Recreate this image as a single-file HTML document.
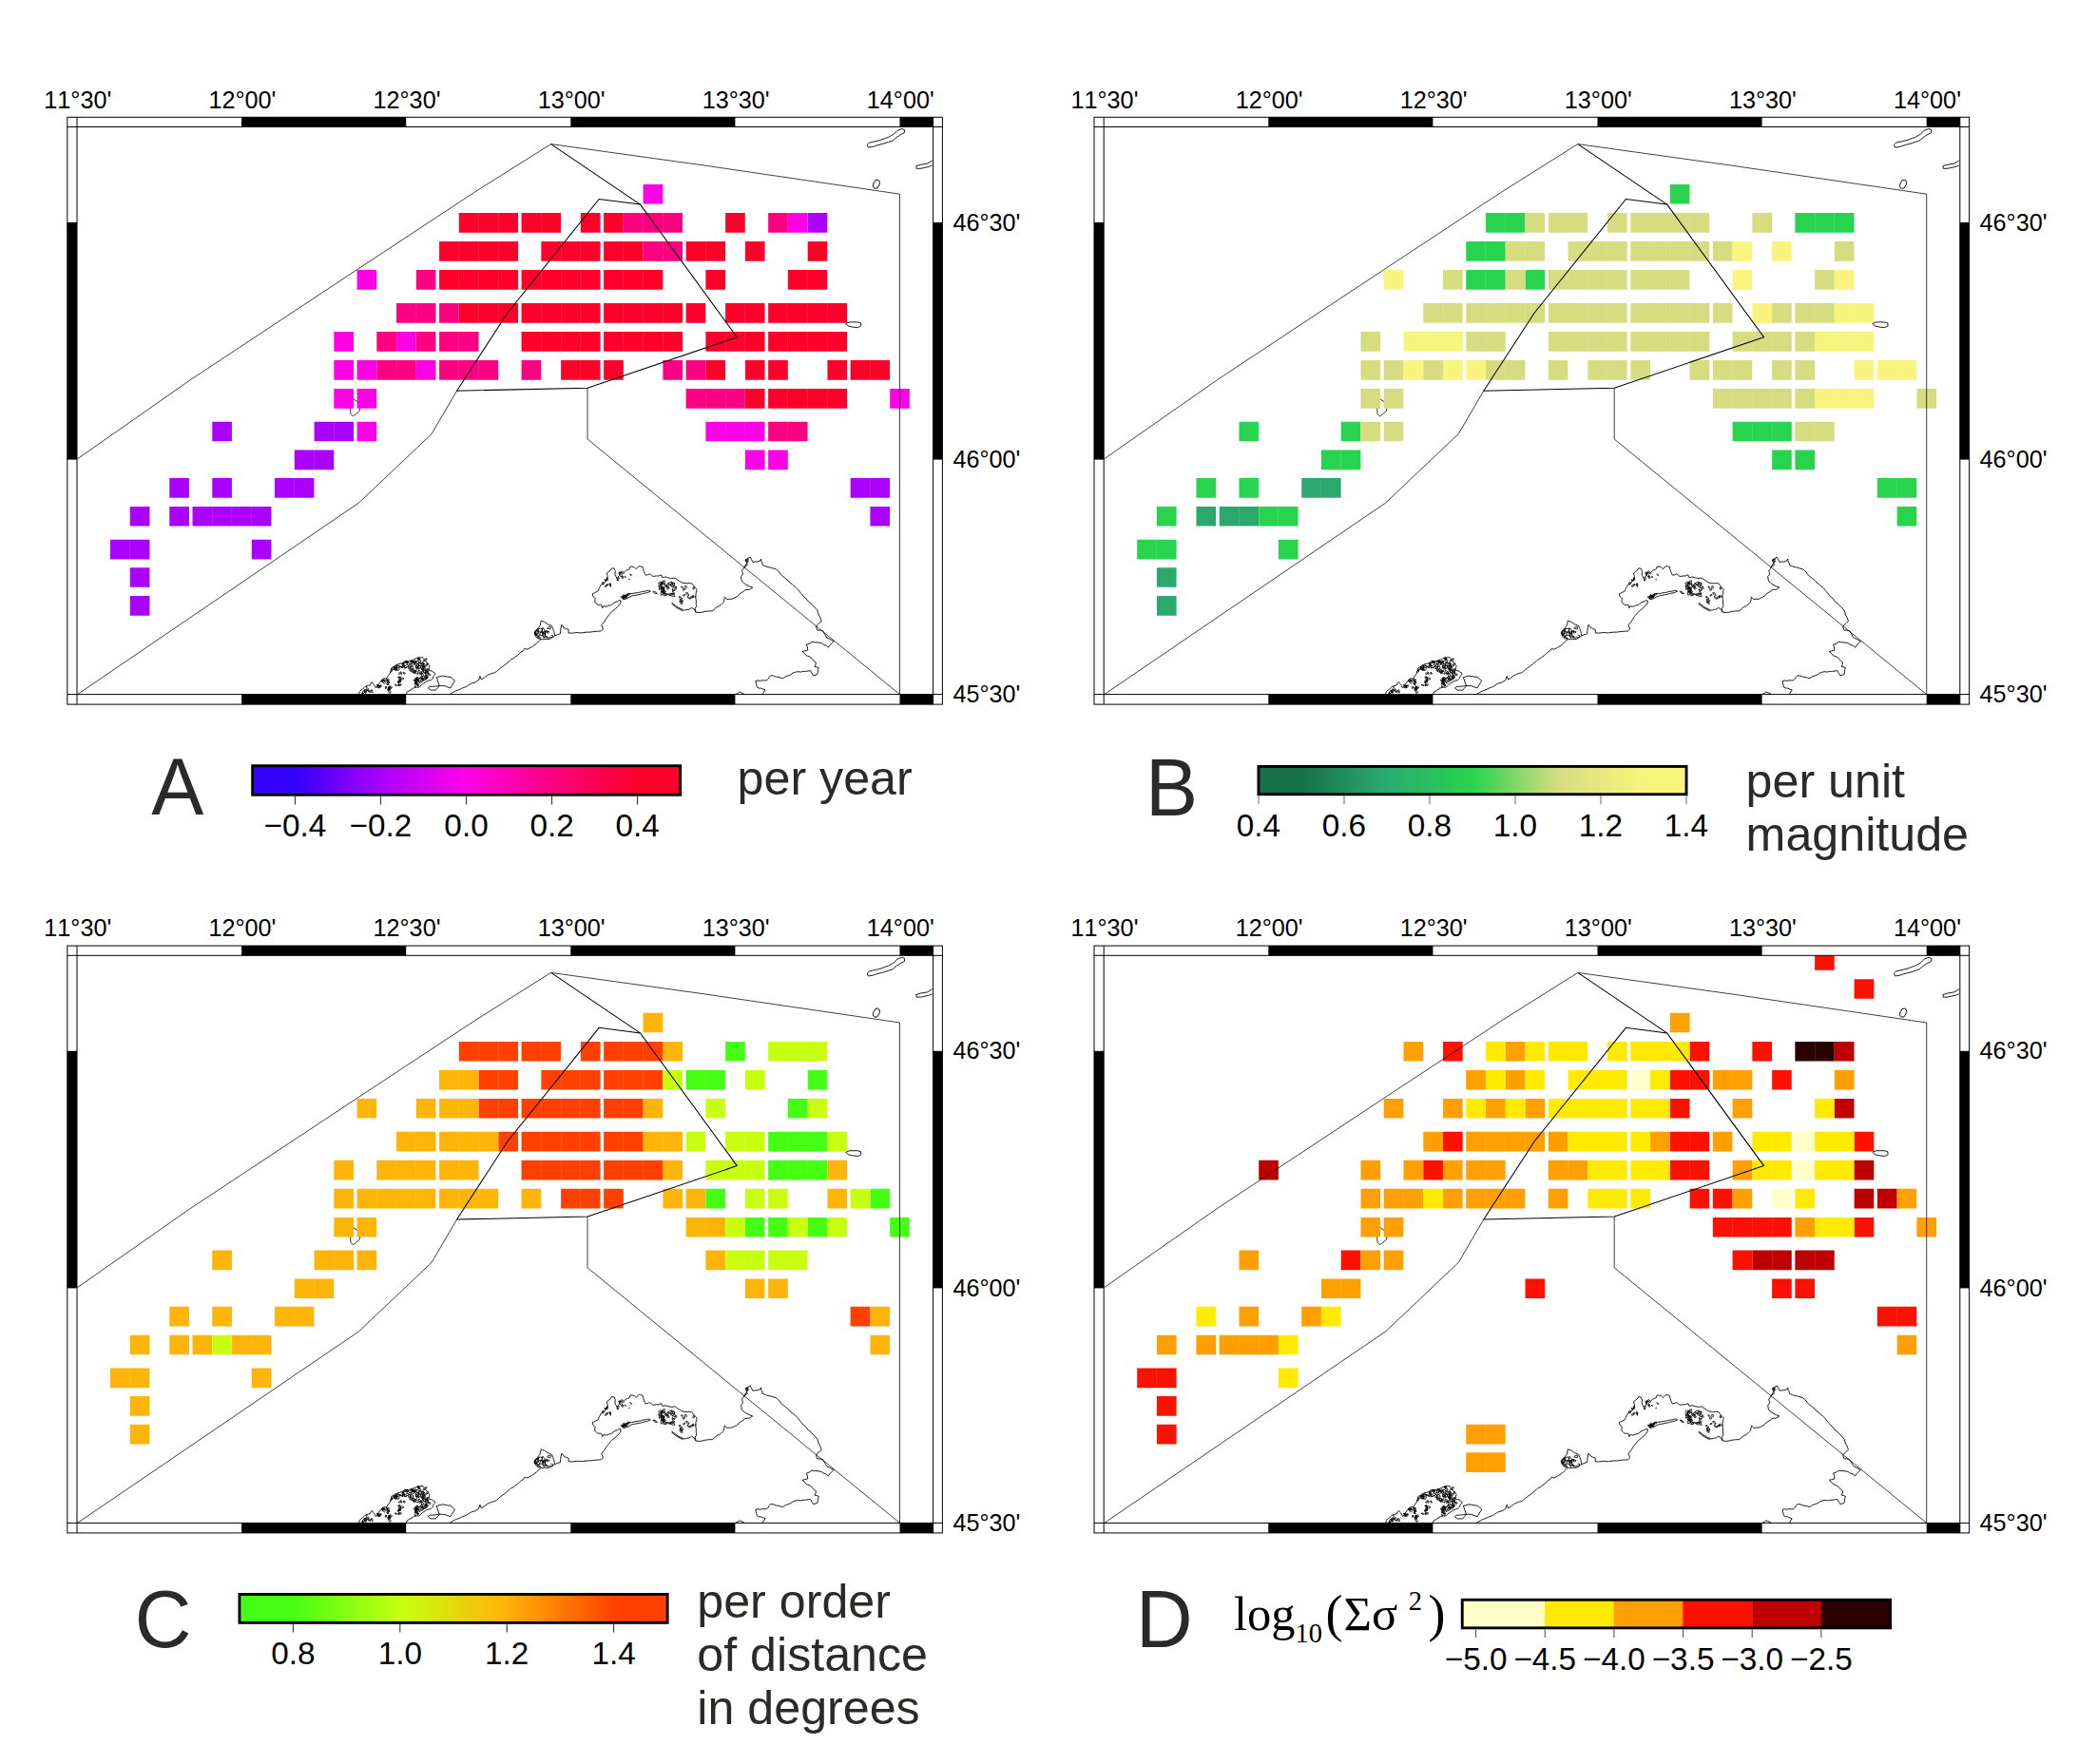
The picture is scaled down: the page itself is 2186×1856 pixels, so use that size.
<!DOCTYPE html>
<html lang="en"><head><meta charset="utf-8"><title>Figure</title>
<style>html,body{margin:0;padding:0;background:#fff}svg{display:block}text{font-family:"Liberation Sans",Arial,sans-serif}.ser{font-family:"Liberation Serif","Times New Roman",serif}</style></head><body>
<svg width="2186" height="1856" viewBox="0 0 2186 1856">
<defs>
<clipPath id="mapclip"><rect x="81" y="133.5" width="900.6" height="597.1"/></clipPath>
<linearGradient id="gA" x1="0" x2="1" y1="0" y2="0"><stop offset="0" stop-color="#3400ff"/><stop offset="0.1" stop-color="#3400ff"/><stop offset="0.3" stop-color="#aa00ff"/><stop offset="0.5" stop-color="#ff00e8"/><stop offset="0.7" stop-color="#ff0082"/><stop offset="0.9" stop-color="#ff002b"/><stop offset="1" stop-color="#ff002b"/></linearGradient>
<linearGradient id="gB" x1="0" x2="1" y1="0" y2="0"><stop offset="0" stop-color="#16704a"/><stop offset="0.1" stop-color="#16704a"/><stop offset="0.3" stop-color="#2caa70"/><stop offset="0.5" stop-color="#28d44e"/><stop offset="0.7" stop-color="#d6dc82"/><stop offset="0.9" stop-color="#f8f47c"/><stop offset="1" stop-color="#f8f47c"/></linearGradient>
<linearGradient id="gC" x1="0" x2="1" y1="0" y2="0"><stop offset="0" stop-color="#44ff14"/><stop offset="0.12" stop-color="#44ff14"/><stop offset="0.38" stop-color="#c8ff10"/><stop offset="0.62" stop-color="#ffb408"/><stop offset="0.88" stop-color="#ff4000"/><stop offset="1" stop-color="#ff4000"/></linearGradient>
<g id="base">
<path fill="none" stroke="#000" stroke-width="0.75" d="M81.5 482.8 L200 399.9 L375.4 283.85 L500 201.7 L579.6 151.6 L740 173.9 L946.5 204.2 L946.5 730.6"/>
<path fill="none" stroke="#000" stroke-width="0.75" d="M81.5 730.6 L377.6 529 L454.1 456.5 L480.6 411.2"/>
<path fill="none" stroke="#000" stroke-width="0.75" d="M618 408.3 L618 462 L946.5 730.6"/>
<path fill="none" stroke="#000" stroke-width="1.05" stroke-linejoin="miter" d="M480.6 411.2 L533.9 329.2 L630.2 209.5 L673.5 215.1 L775.3 354.8 L618.1 408.3Z"/>
<path fill="none" stroke="#000" stroke-width="1.05" stroke-linejoin="miter" d="M579.6 151.6 L673.5 215.1"/>
</g>
<g id="coast">
<path fill="none" stroke="#000" stroke-width="0.9" stroke-linejoin="round" d="M377.51 730.82 L377.91 728.74 L378.66 727.35 L380.06 725.96 L381.2 725.29 L381.97 724.47 L383.2 723.44 L384.49 722.13 L386.17 721.58 L387.83 721.33 L389.63 720.42 L390.12 718.7 L391.37 717.54 L392.46 719.33 L393.37 720.13 L394.25 721.58 L395.41 723.89 L396.75 722.28 L397.5 721.37 L397.65 720.04 L398.68 719.58 L399.42 718.19 L400.74 716.83 L401.52 715.37 L402.34 714.65 L403.44 713.97 L405.6 713.81 L406.96 713.49 L407.64 712.13 L408.64 710.41 L409.85 709.36 L410.42 707.72 L411.03 706.06 L412.16 704.25 L413.19 703.47 L414.41 701.73 L415.67 700.41 L416.2 699.63 L417.56 699.46 L418.74 698.76 L420.07 698.5 L422.24 697.97 L423.79 697.28 L425.05 697.13 L426.38 696.56 L427.75 696.17 L429.48 696.2 L430.51 695.52 L431.49 695.14 L433.48 695.03 L435.05 693.91 L436.01 693.88 L437.04 693.27 L438.58 692.51 L439.87 692.76 L441.33 691.83 L442.99 692.04 L444.49 691.26 L445.01 692.4 L446.42 694.03 L447.63 695.2 L448.03 695.94 L449.04 697.6 L450.58 698.06 L450.74 699.33 L452 700.79 L451.35 702.31 L451.32 703.63 L450.85 705.41 L452.08 705.62 L454.31 705.99 L455.91 707.21 L457.78 708.3 L457.54 709.76 L456.4 710.95 L455.87 711.66 L455.4 713.66 L454.31 714.65 L453.3 715.64 L451.43 715.93 L449.76 716.86 L448.33 716.99 L447.38 718.11 L445.93 718.7 L444.91 719.51 L443.42 720.54 L442.36 721.67 L441.61 722.73 L439.54 723.4 L438.54 722.96 L436.59 723.45 L435.25 723.89 L433.77 724.28 L432.91 725.92 L431.21 726.2 L430.02 727.14 L428.49 727.72 L427.75 729.08 L427.17 730.82M411.23 704.84 L411.48 702.99 L413.38 701.52 L415.23 701.5 L414.78 703.26 L413.17 704.65ZM446.76 703.99 L445.59 704.5 L444.32 701.85 L444.42 700.61 L446.28 701 L447.05 703.21ZM427.53 696.72 L427.74 695.68 L428.61 695.66 L428.86 696.21 L428.34 696.93ZM428.31 697.9 L428.06 697.6 L428.42 695.59 L429.05 695.44 L429.62 696 L429.49 697.51ZM437.31 716.67 L436.59 716.97 L435.48 716.28 L435.02 715.31 L436.39 715.32 L436.86 715.91ZM436 708.66 L435.12 708.57 L434.87 708.23 L434.78 707.55 L435.3 706.65 L436.41 707.31 L436.41 707.71ZM449.68 710.52 L448.23 710.52 L447.34 705.12 L448.8 705.41 L450.64 709.55ZM443.61 707.97 L442.88 707.39 L443.79 706.81 L444.48 706.31 L445.38 706.19 L445.14 706.69 L445.09 707.93 L444.13 708.89ZM445.12 695.93 L445.87 694.34 L448.8 692.55 L448.99 693.88 L447.3 695.4ZM434.91 707.81 L434.12 706.26 L434.41 705.68 L435.41 704.75 L436.12 704.53 L436.52 706.06 L435.44 707.27ZM444.86 705.4 L443.52 704.37 L442.35 702.16 L442.63 700.84 L443.29 700.31 L443.69 700 L444.79 701.76 L445.02 704.7ZM433.18 707 L432.48 706.62 L432.55 705.51 L432.66 704.61 L434.2 705.25 L433.95 706.74ZM448.83 707.68 L448.7 706.94 L448.79 706.42 L449.58 705.63 L450.14 705.93 L450.11 706.68 L449.54 707.38ZM425.4 700.56 L424.02 700.74 L423 700.57 L422.84 699.92 L424.74 699.87ZM437.44 714.27 L437.52 713.8 L437.83 712.97 L439.06 712.75 L439.95 712.97 L440.08 713.96 L439.09 714.56 L438.02 714.75ZM446.73 705.71 L445.98 705.53 L447.63 703.93 L448.3 704.21 L448.67 704.37 L449.42 704.93 L447.92 706.27 L447.49 706.04ZM439.83 709.26 L438.37 708.73 L436.96 708.03 L437.17 706 L438.84 706.7 L439.98 707.58ZM417.85 704.77 L417.12 704.63 L416.19 704.08 L416.15 703.48 L416.42 703.14 L416.95 703.21 L417.41 703.67 L417.87 703.98ZM444.59 700.12 L443.69 699.27 L443.75 697.06 L444.48 696.8 L445.22 697.51 L445.74 699.41ZM443.76 704.37 L443.76 703.25 L444.52 703.08 L445.53 702.98 L445.88 703.82 L445.91 704.38 L444.19 705.24ZM439.61 701.75 L438.79 702.79 L436.78 701.17 L437.32 700.51 L439 700.83ZM439.22 702.99 L439.3 701.17 L441.09 700.57 L442.84 699.88 L443.34 700.82 L442.6 701.53 L441.13 703.45 L440.02 703.53ZM446.76 702.29 L444.97 701.99 L444.22 700.38 L445.16 699.46 L446.66 700.84ZM448.84 700.29 L448.67 699.51 L448.97 698.54 L449.65 697.83 L450.14 698.09 L450.16 698.62 L449.26 700.37ZM446.43 715.21 L445.56 714.29 L447.73 712.82 L449.12 712.8 L450.28 712.59 L448.41 714.94 L447.02 715ZM446.98 712.97 L447.12 712.08 L447.98 711.64 L448.68 712.2 L448.56 713.16 L447.98 713.5ZM449.5 712.6 L448.85 711.9 L448.9 711.57 L449.75 710.81 L450.22 711.65 L450.08 712.06ZM440.9 704.08 L440.15 704.04 L439.6 702.91 L439.79 702.63 L440.27 702.54 L440.55 702.7 L440.77 703.51ZM446.92 698.65 L445.99 698.89 L445.34 699.19 L444.23 698.98 L444 698.45 L443.9 697.98 L445.25 697.63 L446.23 698.33ZM434.95 703.32 L433.2 703.42 L431.73 702.02 L432.41 700.83 L434.35 701.5ZM441.59 693.35 L440.01 693.99 L438.5 692.56 L439.51 691.86 L440.72 691.49ZM423.26 699.07 L424.6 696.42 L426.48 695.41 L427.56 697.04 L425.77 697.89ZM435.7 707.56 L435.7 706.7 L435.81 706.18 L436.28 705.83 L437.27 705.88 L437.25 706.63 L437.36 706.96 L436.69 707.86ZM415.33 702.06 L415.46 701.9 L417.07 701.57 L417.84 701.63 L418.37 702.23 L417.34 702.78 L417.19 703.28 L415.44 702.82ZM435.44 697.55 L436.73 696.26 L437.91 696.31 L438.09 697.52 L436.67 698.02ZM450.28 704.82 L449.25 704.92 L448.96 704.18 L449.68 703.57 L450.28 703.47 L450.62 704.17ZM440.99 708.87 L441.45 708.09 L442.62 707.92 L443.31 708.69 L441.44 709.65ZM445.76 701.23 L446.26 700.24 L447.86 699.83 L448.24 701.26 L447.29 702.14ZM417.05 705.41 L416.72 704.82 L416.92 703.51 L417.35 703.12 L417.9 703.64 L417.54 704.91ZM442.92 698.09 L441.94 698.34 L441.13 697.72 L440.31 697.25 L440.16 696.32 L441.08 696.25 L441.74 696.46 L442.62 697.04ZM443.7 715.2 L443.48 714.81 L444.94 713.74 L445.74 713.68 L445.56 714.45 L444.41 715.11ZM429.86 703.95 L429.65 702.59 L429.29 701.65 L430.68 700.5 L431.13 700.83 L431.14 701.87 L430.73 703.23ZM439.39 694.09 L439.69 693.64 L439.79 693.35 L440.96 693.09 L441.14 693.55 L440.82 694.15 L440.21 694.33 L439.76 694.32ZM437.28 703.09 L438.15 700.38 L440.17 699.88 L441 700.68 L439.06 702.31ZM447.51 708.2 L447.28 708.12 L446.79 708.09 L446.76 707.65 L446.84 707.19 L447.2 707.25 L447.67 707.26 L447.75 707.87ZM442.62 717.99 L442.14 718.65 L440.25 716.83 L440.26 715.99 L441.14 715.66 L442.93 717.51ZM439.07 715.48 L437.8 714.95 L438.4 712.76 L439.8 713.03 L440.4 714.43ZM448.2 711.8 L447.88 712.62 L446.87 712.36 L446.03 711.66 L446.47 711.01 L447.78 710.77ZM410.6 707.34 L410.67 706.34 L411.85 705.44 L412.58 705.55 L412.45 706.3 L411.73 706.95ZM449.6 709.11 L448.84 708.13 L449.1 706.68 L450.12 706.21 L450.48 706.86 L450.27 708.83ZM414.68 704.63 L415.01 702.89 L417.1 702.44 L417.68 702.8 L416.46 704.61ZM428.06 700 L427.68 699.41 L427.67 699.03 L428.1 698.52 L428.58 698.86 L428.84 699.13 L428.43 699.91ZM430.97 698.97 L430.99 697.59 L431.47 696.03 L432.61 694.76 L433.15 695.44 L433.43 696.41 L433.71 697.68 L431.65 698.76ZM429.07 697.8 L427.69 697.39 L426.78 696.57 L426.33 696.09 L426.82 695.38 L428.07 695.69 L428.89 696.39ZM431.93 706.06 L431.29 706.1 L430.95 705.54 L430.86 704.88 L431.33 704.38 L432.22 705.07 L432.25 705.95ZM444.8 713.29 L443.95 713.84 L442.53 713.71 L442.4 712.89 L442.54 712.21 L442.97 711.69 L444.45 711.74 L444.56 712.38ZM444.38 711.71 L443.36 712.2 L443.35 710.22 L444.33 708.73 L444.94 708.8 L445.28 710.07 L445.3 711.46ZM439.14 717.88 L437.27 715.98 L436.74 713.63 L437.87 713.23 L439.74 716.06ZM452.83 709.59 L452.77 710.41 L451.66 710.32 L451.05 710.35 L451.03 709.57 L450.88 709.01 L452.07 708.63 L452.44 708.96ZM434.77 696.67 L433.86 697.6 L432.43 696.94 L432.38 695.72 L432.97 694.73 L434.06 694.85 L434.89 696.31ZM443.53 708.76 L442 708.48 L440.29 706.25 L440.21 705.44 L441.38 705.49 L443.21 707.57ZM438.4 699.22 L437.68 699.82 L434.86 698.16 L433.39 696.39 L436.26 696.7 L437.96 697.66ZM441.19 719.22 L440.82 717.56 L440.31 715.94 L438.82 715.12 L437.9 716.55 L438.36 718.19 L439.73 719.19 L438.38 718.17 L438.32 716.47 L436.79 715.72 L438.09 714.63 L439.65 715.32 L441.17 714.57 L441.61 712.92 L443.3 713.16 L443.82 714.77 L445.21 715.76 L444.49 717.3 L442.83 716.92 L442.8 715.22 L443.69 713.77 L445.27 714.41 L445.28 716.11 L446.86 715.46 L447.8 714.04 L449.12 712.98 L448.17 711.57 L448.06 709.88 L447.18 708.42 L445.65 707.68 L445.38 706 L445 704.34 L443.82 703.13 L442.56 701.98 L442.2 700.32 L440.5 700.27 L440.3 698.58 L438.6 698.55 L437.38 697.36 L437.78 695.71 L436.18 695.11 L434.79 696.08 L435.61 697.57 L437.24 697.07 L437.77 695.45 L439.46 695.64 L440.64 694.42 L442.34 694.37 L442.87 695.98 L441.43 696.89 L440.54 698.34 L440.36 700.03 L440.05 701.7 L438.61 702.6 L438.89 704.28 L437.96 705.7 L436.26 705.87 L435.32 704.46 L433.76 705.14 L432.74 703.78 L431.11 704.28 L431.74 702.7 L431.57 701.01 L433.13 700.35 L434.77 699.9 L435.92 698.65 L436.25 696.98 L435.06 695.77 L433.55 696.53 L433.46 698.23 L432.48 699.62 L431.02 698.75 L429.51 699.54 L429.95 701.18 L428.37 701.8 L426.73 702.26 L425.29 703.15 L425.28 701.45 L425.05 699.77 L424.44 698.19 L422.75 698.41 L424.42 698.73 L425.04 700.31 L426.73 700.47 L427.93 701.68 L427.01 703.11 L425.64 702.11 L424.09 701.4 L422.71 702.39 L421.15 701.71 L419.49 702.05 L417.89 702.63 L417.2 701.07 L418.22 699.71 L419.71 700.52 L421.3 701.12 L422.91 701.65 L423.82 703.09 L422.62 701.88 L421 701.37 L419.98 702.72 L420.04 704.42 L418.81 705.59 L417.21 705.02 L415.51 705.15 L414.31 703.95 L414.37 702.25 L415.36 700.87 L416.89 700.12 L418.5 700.65 L420.19 700.51M422.67 709.3 L422.05 709.23 L421.34 708.63 L421.84 708.21 L422.78 707.99 L422.87 708.86ZM425.93 709.34 L424.81 708.9 L424.44 708 L424.77 707.16 L426.2 708.15ZM421.21 717.93 L420.3 716.2 L419.89 714.53 L420.27 712.41 L420.81 712.04 L421.39 714.01 L421.37 716.4ZM419.65 709.32 L419.3 708.57 L420.3 707.87 L421.55 706.84 L422.23 707.11 L421.67 708.44 L420.23 709.42ZM419.04 721.54 L418.78 721.24 L419.31 720.12 L419.8 719.62 L420.18 720.6 L419.52 721.51ZM418.78 713.07 L418.88 712.07 L420.27 711.91 L421.19 712.34 L420.59 713.35 L419.75 713.83ZM421.07 714.4 L421.53 713.68 L422.34 712.96 L424.03 713.4 L424.59 713.85 L424.61 714.5 L422.57 715.07 L422.27 714.8ZM418.65 718.74 L418.63 716.8 L419.44 715.5 L420.49 715.35 L420.07 717.39ZM417.48 721.53 L416.41 721.44 L415.09 720.56 L415.87 720.1 L416.92 720.36ZM418.98 717.79 L420.04 716.44 L421.16 715.55 L421.73 715.66 L421.91 716.34 L420.17 718.06ZM418.76 721.16 L419.25 720.06 L421.54 719.8 L422.32 720.05 L421.52 721.42 L419.57 721.37ZM418.77 718.11 L419.22 717.35 L419.9 717.19 L420.55 716.88 L420.71 717.33 L420.19 717.98 L419.31 718.16ZM405.13 718.46 L404.37 719.15 L402.78 718 L401.09 716.25 L401.41 715.57 L402.82 715.33 L403.94 716.55 L405.16 717.77ZM407.8 717.97 L407.34 716.26 L408.49 714.27 L409.2 715.16 L408.63 717.42ZM408.7 724.61 L408.64 723.49 L411.33 721.97 L412.28 722.87 L412.18 723.86 L410.09 724.63ZM405.46 724.57 L405.32 723.69 L405.86 722.98 L406.35 723.18 L406.27 724.07ZM408.09 720.44 L407.17 720.05 L406.74 719.02 L407.2 718.6 L408.36 719.04ZM406.91 723.6 L406.38 723.77 L405.83 723.38 L405.58 722.34 L406.11 722.49 L406.64 722.78 L406.82 723ZM409.14 720.8 L408.47 720.75 L407.65 720.66 L407.23 720.26 L407.41 720.15 L407.51 719.88 L407.97 719.76 L409.07 720.44ZM409.14 726.7 L408.88 726.52 L408.4 724.96 L408.76 723.87 L409.17 724.24 L410.01 724.18 L410.26 725.2 L409.69 726.4ZM410.93 729.14 L409.58 729.1 L408.44 727.16 L407.59 724.82 L409.47 725.67 L411.01 727.69ZM408.52 723.63 L408.75 722.93 L409.47 722.7 L409.75 723.17 L409.22 723.83ZM408.51 719.45 L407.61 719 L406.87 716.67 L407.51 715.56 L408.85 716.74 L409.42 718.37ZM409.4 724.2 L409.05 724.25 L409 723.11 L408.9 722.32 L409.55 722.35 L409.83 722.91 L409.82 724.35ZM409.55 719.06 L409 718.51 L408.82 717.57 L409.31 717.54 L409.71 718.14ZM405.38 716.91 L404.61 716.78 L403.77 716.24 L403.64 715.83 L403.57 715.15 L404.45 715 L405.01 715.62 L405.32 716.47ZM409.81 725.87 L409.73 725.02 L409.78 723.14 L410.39 722.88 L410.84 722.91 L410.9 724.19 L410.45 725.4ZM407.1 716.41 L406.22 715.54 L406.4 714.41 L407.08 714.26 L407.41 715.45ZM384.94 725.36 L384.78 725.05 L385.01 724.88 L385.61 724.8 L385.77 725.16 L385.76 725.37 L385.64 725.94 L385.07 725.89ZM384.84 729.47 L384.18 729.07 L383.95 728.68 L383.68 728.09 L383.35 727.35 L384.2 727.84 L384.56 727.88 L385.22 729.1ZM380.66 729.59 L381.15 728.84 L381.78 728.73 L382.36 729.61 L381.72 730.2ZM380.92 729.99 L381.83 727.28 L383.24 726.57 L384.63 726.7 L382.75 729.49ZM391.85 729.09 L390.93 728.02 L390.3 726.05 L391.27 725.74 L392.02 727.16ZM385.92 726.48 L386.28 725.25 L387.35 724.47 L388.01 725.25 L387.18 726.55ZM384.92 728.14 L383.72 728.67 L383.23 727.85 L383.12 725.99 L384.02 725.46 L385.12 726.08 L385.82 728.06ZM385.85 723.71 L385.41 723 L385.54 722.44 L386.05 722.65 L386.27 723.25ZM388.13 728.42 L387.43 727.19 L387.43 726.42 L388.15 725.73 L389.22 726.87ZM389.74 728.54 L389.23 728.58 L388.85 728.23 L388.43 727.41 L388.87 727.38 L389.24 727.27 L389.56 727.81ZM439.84 720.72 L439.27 720.86 L438.19 720.59 L437.95 719.32 L438.09 718.73 L438.92 719.22 L440.06 720.19ZM439.03 722.04 L438.96 721.92 L439.55 721.1 L440 720.63 L440.42 720.76 L440.18 721.32 L439.92 722 L439.45 722.1ZM436.81 718.08 L437.06 716.95 L438.42 716.15 L438.79 716.86 L437.59 718.31ZM438.47 720.51 L438.09 720.62 L437.43 719.59 L437.17 719.03 L437.96 719.25 L438.47 719.9ZM435.87 719.94 L436.36 719.54 L437.14 719.39 L437.91 719.57 L437.54 719.96 L436.71 720.21ZM439.04 720.9 L439.4 720.56 L440.66 720.48 L440.23 721.02 L439.18 721.31ZM437.35 723.33 L436.93 723.18 L436.05 721.95 L436.53 721.73 L436.9 721.63 L437.57 722.77ZM436.68 719.02 L436.5 717.78 L436.9 715.56 L437.61 716.16 L437.66 717.76ZM396.56 722.87 L397.22 722.01 L397.69 721.35 L398.49 722.08 L398.84 722.55 L397.19 723.47ZM401.48 716.53 L402.32 715.77 L403.09 715.23 L403.97 715.23 L404.23 715.67 L404.09 716.3 L403.81 716.94 L402 717.21ZM402.62 717.53 L401.88 717.22 L401.33 716.29 L402.17 715.54 L403.07 715.86 L402.88 717.02ZM400.57 721.67 L399.61 722.38 L398.39 722.29 L398.67 721.38 L399.88 721.24ZM399.49 723.32 L399.05 722.4 L399.28 721.52 L400.17 721.08 L400.95 720.72 L401.1 721.53 L401.23 722.33 L400.12 723.27ZM398.06 722.02 L397.41 721.77 L397.61 720.89 L398.08 720.96 L398.3 721.42ZM399.09 723.92 L398.22 723.86 L397.02 722.65 L396.73 721.64 L396.25 720.42 L398.2 721.64 L399.55 722.81ZM398.65 722.21 L398.06 721.84 L397.89 721.68 L397.79 721.2 L398.07 720.86 L398.26 721.08 L398.79 721.08 L398.81 721.6ZM450.27 723.89 L453.16 726.2 L455.69 726.1 L458.35 726.2 L460.51 723.75 L462.39 721.58 L461.05 718.29 L460.08 714.65 L458.93 712.92 L461.83 711.91 L464.7 711.18 L467.8 711.38 L470.88 712.14 L473.94 712.34 L476.4 714.44 L478.56 716.38 L476.93 718.83 L475.35 721.49 L473.94 723.89 L470.78 722.84 L467.59 721.58 L464.35 721.47 L461.24 721.58 L458.28 722.06 L455.22 722.28 L452 722.44 L450.27 723.89M471.05 731.24 L473.68 730.27 L475.67 728.99 L478.17 727.51 L480.35 726.56 L482.92 725.72 L485.49 724.45 L488.07 723.33 L490.31 722.63 L492.58 721.11 L494.32 719.93 L496.56 718.83 L499.11 718.24 L501.52 716.86 L503.54 715.79 L504.98 711.46 L506.42 715.07 L509.42 713.11 L512.2 710.74 L514.43 709.77 L517.25 708.57 L520.14 707.85 L522.41 706.51 L524.28 704.77 L525.87 703.45 L527.96 701.93 L530.39 700.11 L531.98 698.96 L534.19 696.88 L536.02 695.58 L537.82 693.79 L540.43 692.7 L541.96 691.17 L544.6 689.5 L546.22 687.88 L548.13 685.96 L550.45 684.75 L552.19 682.15 L554.06 683.31 L557.04 681.97 L559.37 680.73 L562 678.98 L564.36 677.07 L567.04 674.44 L569.22 672.48M562 665.99 L562.77 664.62 L563.72 663.65 L564.7 662.31 L565.56 661.5 L566.7 659.94 L567.78 658.77 L568.32 657.17 L568.68 655.25 L569.22 652.99 L570.67 653.74 L572.13 654.05 L573.5 654.9 L574.99 655.88 L576.04 656.84 L577.62 657.3 L579.51 658.09 L580.77 658.77 L581.17 660.23 L581.9 661.88 L582.08 663.15 L582.93 664.54 L583.09 666.53 L583.66 668.87 L582.43 669.78 L580.82 670.89 L579.66 671.53 L577.88 672.48 L576.24 672.49 L574.43 672.64 L572.65 672.51 L570.94 672.83 L569.22 672.48 L567.94 672.06 L566.69 670.85 L564.94 670.67 L563.45 669.59ZM572.48 666.85 L569.95 665.67 L570.16 663.35 L570.87 660.43 L572.9 662.94 L573.8 666.59ZM577.98 664.76 L576.56 666.06 L574.95 665.58 L575.07 664.61 L576.38 664.39ZM563.35 667.97 L562.75 666.62 L563.04 663.65 L565.08 663.21 L565.25 666.82ZM565 670.79 L566.12 669.61 L567.47 670.07 L568.68 671.52 L566.43 672.23ZM572.53 668.21 L571.44 667.79 L571.4 665.68 L572.89 664.17 L573.19 665.99 L573.72 667.24ZM575.92 664.8 L575.14 664.85 L574.04 664.44 L574.2 663.4 L575.6 663.7ZM575.74 670.68 L574.82 671.08 L573.15 670 L573.18 669.22 L573.75 668.96 L575.51 669.67ZM575.48 660.97 L576.48 660.15 L578.88 659.21 L579.43 659.92 L579.04 661.78 L577.89 661.85ZM570.24 664.61 L569.08 665.31 L568.05 664.69 L566.17 665.04 L565.37 662.21 L566.31 661.75 L568.72 661.18 L570.5 661.94ZM572.28 665.81 L570.68 665.85 L570.56 667.45 L571.03 668.98 L572.36 669.87 L572.44 671.47 L571.34 670.31 L570.9 668.77 L569.34 668.4 L567.74 668.32 L566.83 669.64 L565.28 669.23 L564.08 668.17 L563.63 666.64 L562.51 665.49 L563.01 667.02 L564.6 667.17 L566.19 666.95 L566.72 665.44 L566.37 663.88 L566.59 662.29 L565 662.47 L564.27 663.9 L563.24 665.12 L564.27 666.34 L563.24 667.56 L564.01 668.96 L564.6 667.48 L563.22 666.67 L563.1 665.07 L563.58 666.6 L563.4 668.19 L564.91 668.72 L566.48 669.06 L567.74 668.08 L568.15 666.53 L568.44 664.96 L570.04 664.94 L571.64 664.84 L572.06 666.38 L573.59 666.86 L573.58 668.46 L574.2 669.93 L575.76 670.31 L576.65 671.64 L577.92 670.67 L579.5 670.92 L581.02 670.42 L581.76 669 L580.41 668.13 L579.3 669.28M583.66 668.87 L586.75 667.57 L589.43 666.71 L589.69 663.54 L590.14 660.3 L590.87 657.32 L593.04 660.21 L595.31 661.4 L598.09 662.38 L598.09 665.99 L601.15 666.13 L603.66 665.92 L606.85 665.48 L609.87 665.88 L612.36 665.78 L615.42 665.41M615 665.36 L617.84 665.14 L621.02 665.1 L623.49 664.68 L626.56 664.42 L629.29 664.19 L632.33 664.06 L634.49 661.9 L632.76 657.57 L635.79 654.1 L637.2 651.7 L638.39 649.77 L640.15 647.72 L641.61 645.64 L643.59 643.71 L645.67 641.98 L647.41 640.49 L649.65 638.51 L652.68 635.05 L653.12 632.01 L651.38 631.58M651.38 631.58 L649.85 632.78 L647.92 633.31 L645.91 634.3 L644.13 635.82 L642.72 636.78 L640.39 637.17 L638.39 638.08 L636.6 638.15 L634.92 637.64 L633.62 639.81 L632.76 636.78 L631.39 636.32 L629.34 636.49 L627.99 635.91 L626.96 634.75 L625.83 633.31 L625.76 631.27 L626.26 629.85 L625.09 628.5 L623.66 627.25 L623.23 624.65 L624.45 624.31 L626.26 623.35 L628.86 622.05 L629.68 620.82 L630.01 619.41 L631.03 617.72 L632.33 615.12 L633.75 614.51 L635.79 613.39 L636.84 611.54 L637.96 609.92 L638.64 608.49 L639.26 606.46 L638.66 604.47 L638.39 602.99 L640.14 601.51 L641.85 600.4 L643.59 597.8 L646.19 598.23 L646.56 599.51 L647.48 601.26 L646.95 603 L647.05 605.16 L648 606.76 L649.22 608.62 L650.48 606.96 L651.38 605.59 L651.82 603.63 L652.25 602.13 L653.87 602.66 L655.71 603.86 L656.84 601.79 L658.31 600.4 L660.42 599.56 L662.21 598.66 L663.08 596.06 L664.81 596.26 L666.98 596.5 L669.14 598.66 L670.96 596.87 L672.17 595.63 L674.34 596.02 L676.07 596.5 L676.5 598.32 L676.86 599.68 L677.37 601.26 L678.37 603.55 L679.1 605.16 L681.16 604.74 L683.43 603.86 L685.31 605.25 L686.9 606.46 L688.85 606.21 L690.63 605.91 L692.96 606.03 L695.56 604.73 L696.43 607.33 L697.86 607.49 L699.72 607.09 L701.63 607.33 L703.07 608 L705.35 608.31 L706.82 608.62 L708.4 608.23 L710.29 608.19 L711.88 609.46 L713.75 610.79 L715.25 611.62 L717.05 612.85 L718.95 613.39 L721.01 613.51 L722.24 613.89 L724.01 613.55 L725.53 613.65 L727.61 613.82 L728.89 615.34 L730.21 616.85 L731.52 618.59 L733.24 620.32 L732.57 621.89 L732.31 623.71 L731.95 625.18 L731.94 627.25 L731.87 628.67 L732.13 630.49 L732.3 632.19 L732.34 633.95 L732.18 635.17 L732.65 636.66 L732.38 638.51 L731.08 640.24 L731.67 642.29 L731.94 644.14M653.55 628.12 L655.31 627.38 L657.45 626.38 L659.77 625.57 L661.78 624.65 L664.47 624.56 L666.98 624.22 L669 623.79 L671.31 623.48 L673.59 623.05 L675.64 622.48 L677.98 622.21 L680.33 621.7 L682.57 621.19 L684.3 622.05 L680.84 623.78 L678.56 624.03 L676.36 624.59 L674.18 625.22 L672.17 625.52 L669.89 626 L667.6 626.45 L665.24 626.82 L662.64 627.92 L660.05 629.41 L658 630.16 L655.71 630.71ZM658.57 628.16 L657.63 628.14 L656.35 627.41 L655.89 626.71 L655.43 625.94 L656.26 625.48 L657.18 626.32 L658.58 627.44ZM655.01 629.45 L655.4 629.06 L656.81 628.98 L657.07 629.6 L655.97 629.97ZM657.52 628.73 L656.92 628.61 L656.54 628.43 L656.41 627.77 L656.52 627.2 L656.78 627.27 L657.27 627.56 L657.57 628.15ZM658.78 629.45 L658.28 628.92 L658.46 627.78 L658.84 628.09 L659.23 629.04ZM660.38 627.18 L659.69 627.4 L658.32 627.55 L657.29 627.43 L657.08 626.77 L658.15 626.37 L659.42 626.68ZM656.02 628.28 L655.42 629.13 L654.34 628.89 L653.27 628.25 L653.5 627.73 L654.38 627.51 L655.87 627.54ZM660.53 626.12 L660.07 626.71 L659.57 626.17 L659.71 625.83 L660.39 625.53ZM656.11 628.9 L655.87 628.65 L656.01 627.9 L656.35 626.93 L656.93 626.64 L656.76 627.4 L656.8 628.02 L656.4 628.43ZM659.23 625.74 L659.64 624.96 L660.79 624.35 L661.78 624.72 L662.67 625.33 L662.15 626.12 L660.92 626.15 L660.02 625.97ZM656.89 628.47 L657.4 627.84 L658.6 627.61 L659.44 628.1 L658.59 628.75 L657.74 628.74ZM686.9 622.22 L689.5 622.92 L691.4 624.65 L688.63 624.22ZM706.82 634.18 L708.56 635.64 L710.38 636.81 L712.02 638.51 L713.89 639.23 L715.23 640.1 L717.36 640.93 L718.95 641.98 L721.12 641.97 L722.99 641.33 L725.01 641.11 L727.61 639.38 L730.21 641.11 L731.94 644.14M706.39 635.05 L712.02 639.55 L718.52 642.84M697.24 624.56 L696.79 624 L696.47 623.58 L696.8 622.43 L697.41 621.99 L697.7 622.32 L698.5 623.55 L698 624.4ZM697.54 618.05 L696.85 618.81 L694.76 618.05 L692.78 616.83 L692.53 616.2 L694.61 616.12 L695.87 617.03ZM704.27 625.6 L706.43 624.18 L709.89 623.98 L708.95 625.13 L706.26 625.98ZM692.63 613.93 L693.23 612.8 L694.43 612.15 L695.95 612.52 L697.29 613.63 L696.67 614.36 L694.34 614.47 L693.32 614.79ZM699.02 619.09 L697.73 619.6 L696.68 619.3 L696.55 618.89 L697.29 618.49 L697.94 618.32ZM710.11 619.79 L709.95 621.17 L708.13 620.63 L706.95 620.41 L707.4 619.46 L708.63 618.28 L710.27 618.84ZM711.68 619.55 L711.12 619.13 L710.47 618.43 L710.18 617.5 L710.74 617.06 L711.04 616.82 L711.7 617.99 L711.73 618.49ZM697.45 613.56 L697.23 614.02 L696.09 613.91 L695.75 613.4 L696.01 613.05 L697.17 613.06ZM707.55 622.71 L707.47 621.43 L708.67 621.02 L709.37 621.83 L708.59 622.5ZM695.08 624.76 L694.79 624.06 L696.73 621.94 L698.47 621.47 L700.05 621.89 L700.5 622.54 L697.1 625.16 L695.63 626.37ZM694.94 614.18 L695.29 613.41 L695.96 612.89 L696.77 612.74 L697.26 612.46 L697.14 612.99 L696.48 613.75 L695.69 614.23ZM700.33 617.72 L701.16 616.64 L702.94 616.67 L702.91 617.54 L701.07 618.17ZM707.91 617.92 L705.72 616.79 L705.79 615.02 L706.94 613.56 L708.59 616.21ZM698.64 621.53 L697.12 620.3 L696.37 618.25 L696.77 617.41 L697.78 617.95 L698.98 619.68ZM703.53 619.87 L702.73 619.94 L702.2 619.88 L701.93 618.61 L701.9 618.22 L702.85 617.95 L703.95 618.2 L703.81 619.52ZM698.19 624.06 L696.88 622.94 L695.63 620.03 L696.22 617.45 L696.86 617.94 L698.36 619.12 L698.93 623.7ZM696.72 615.63 L696.77 614.41 L696.44 612.95 L697.05 611.29 L698.51 611.21 L699.33 610.82 L698.84 613.22 L698.28 614.76ZM700.46 624.87 L700.01 625.6 L699.14 625.28 L698.48 624.81 L698.39 624.51 L699.22 623.86 L700.07 623.98ZM700.53 617.02 L702.56 613.8 L706.32 611.97 L706.82 613.38 L702.44 616.88ZM693.7 620.7 L693.33 618.51 L693.85 616.62 L695.1 615.55 L695.99 617.1 L694.58 619.21ZM697.69 614.02 L696.37 613.32 L694.94 613.78 L695.72 615.05 L695 616.37 L696.37 617 L696.01 618.45 L695.37 619.81 L696.37 618.69 L697.87 618.7 L698.17 620.17 L697.8 621.62 L698.89 622.65 L698.67 624.13 L697.75 625.32 L698.18 626.75 L699.67 626.65 L701.17 626.69 L701.46 625.21 L702.95 625.06 L704.45 624.93 L705.95 624.89 L707.38 624.44 L708.85 624.7 L709.07 626.19 L710.06 627.32 L708.56 627.45 L707.09 627.16 L705.67 626.68 L704.18 626.49 L702.98 625.59 L701.86 624.59 L700.55 625.32 L699.72 624.07 L698.44 623.28 L697.03 622.77 L695.53 622.69 L695.2 621.23 L696.55 620.59 L697.93 620 L699.07 619.03 L698.57 617.61 L699.69 616.62 L699.48 615.13 L699.47 613.63 L699.38 615.13 L700.52 616.1 L701.68 615.16 L702.94 614.34 L704.37 614.8 L705.46 615.83 L706.95 615.61 L708.31 616.25 L709.23 615.07 L709.81 613.69 L708.43 613.1 L706.94 613.2 L708.43 613.37 L709.73 614.12 L709.61 615.61 L709.78 617.1M729.78 620.02 L729.25 620.08 L729 618.31 L729.52 617.55 L729.95 617.68 L730.63 619.4ZM718.27 618.27 L717.37 618.3 L716.73 618.01 L716.8 617.5 L716.81 616.96 L717.6 617.24 L718.18 617.66ZM726.66 629.91 L726.1 630.09 L724.96 630.06 L724.51 629.33 L724.86 629.06 L725.73 628.84 L726.76 629.18ZM720.43 620.78 L720.12 620.95 L718.97 621.23 L718 620.38 L718.34 619.63 L719.15 619.13 L719.81 619.06 L720.46 619.98ZM714.03 628.52 L714.47 627.75 L715.5 627.7 L715.9 627.89 L716.12 628.37 L714.59 628.67ZM718.71 632.3 L718.06 633.16 L715.72 632.21 L715.22 631.58 L715.01 630.44 L718.1 631.35ZM716.04 633.57 L716.12 633.11 L715.88 632.65 L716.7 632.23 L717.02 632.52 L717.46 632.75 L717.07 633.35 L716.87 633.56ZM716.19 629.66 L716.77 629.14 L717.43 629.49 L717.48 630.01 L716.74 630.51ZM718.76 626.91 L718.67 626.22 L719.91 625.64 L720.47 625.37 L720.61 626.22 L720.11 626.62 L719.81 627.17ZM724.73 628.55 L724.18 628.89 L723.22 628.64 L722.96 627.81 L723.58 627.49 L724.04 627.8ZM717.77 635.63 L716.01 634.97 L715.07 633.54 L714.97 632.66 L715.73 631.92 L716.6 632.42 L717.8 634.2ZM728.4 628.66 L728.18 627.6 L728.35 626.84 L729.22 626.03 L729.69 626.65 L729.84 627.26 L729.24 628.1ZM721.49 619.31 L720.93 618.73 L720.37 617.71 L720.47 617.17 L720.79 616.49 L722.06 616.87 L722.14 617.56 L722.25 618.52ZM731.01 628.32 L730.8 627.78 L731.27 627.35 L731.46 627.77 L731.36 628.35ZM726.45 628.17 L727.4 627.8 L728.6 627.32 L729.94 627.81 L728.77 628.79 L727.51 629.02ZM725.09 626.09 L723.95 626.71 L722.25 625 L721.54 623.78 L723.3 623.64 L724.33 625.25ZM641.75 614.54 L641.84 614.17 L642.25 614.18 L642.81 614.31 L642.81 614.56 L642.3 614.86 L641.77 614.93ZM642.05 615.76 L641.49 615.59 L640.69 614.57 L641.39 613.78 L641.86 613.89 L642.81 615.49ZM636.99 617.24 L636.23 617.15 L636.72 615.94 L637.3 615.5 L637.96 615.35 L638.03 615.76 L638.3 616.47 L637.18 617.79ZM634.1 615.1 L633.52 614.5 L633.44 613.46 L634.23 612.1 L634.56 612.66 L635.24 613.02 L634.71 615.14ZM638.68 610.48 L638.23 610.1 L638.18 608.66 L638.7 607.5 L638.99 607.74 L639.68 609.46 L639.39 610.04ZM638.95 616.39 L638.45 616.06 L638.73 614.61 L639.05 614.31 L639.36 614.65 L639.39 616ZM636.97 610.47 L636.64 610.77 L635.7 609.92 L636.05 609.79 L636.82 610ZM636.98 610.99 L636.94 610.32 L638.31 610.08 L639.01 609.86 L638.86 610.54 L638.17 611.3 L637.46 611.37ZM642.35 617.42 L641.88 617.01 L641.38 615.35 L641.68 615.01 L642.28 616.18ZM654.14 606.25 L653.94 607.28 L651.8 605.27 L651.7 604.3 L652.74 603.42 L653.86 604.61 L654.47 605.96ZM654.94 608.75 L654.36 607.76 L654.03 606.89 L654.55 605.96 L655.54 606.45 L655.64 607.96ZM649.77 610.72 L649.23 609.64 L648.98 608.5 L649.69 607.59 L650.41 608.03 L651.05 607.77 L651.33 608.74 L650.27 609.94ZM658.46 607.37 L657.89 607.38 L657.3 607.26 L657.14 606.6 L657.59 606.68 L658.21 606.84ZM650.53 610.85 L649.8 610.86 L649.42 610.8 L648.9 610.35 L649.01 610.12 L649.49 610.13 L650.4 610.58ZM651.69 604.82 L650.83 603.11 L650.99 602.15 L651.75 602.19 L652.14 603.53ZM652.35 602.3 L653.27 601.5 L654.22 600.86 L655.19 601.38 L655.37 602.17 L654.65 602.41 L653.44 602.8ZM662.79 604.28 L662.66 604.1 L662.59 603.9 L662.91 603.83 L663.19 603.89 L663.1 604.14 L663 604.33ZM662.12 610.02 L661.79 610.09 L661.58 609.75 L661.52 609.54 L661.76 609.17 L661.96 609.41 L662.19 609.59ZM664.32 605.54 L663.86 605.67 L663.62 605.24 L663.6 604.8 L664.13 604.55 L664.51 605.07ZM731.94 644.14 L734.1 644.47 L736.28 644.57 L738.75 644.21 L740.98 643.45 L743.21 643.27 L745.16 642.98 L747.68 642.87 L749.7 642.84 L751.26 641.03 L752.73 639.81 L754.2 638.66 L756.3 637.9 L757.93 636.78 L759.77 634.92 L761.4 633.31 L761.84 630.69 L762.26 628.12 L764.86 630.71 L767.44 630.27 L770.06 630.28 L772.46 629.02 L774.39 628.12 L776.41 626.93 L777.57 625.2 L779.59 623.78 L781.95 622.55 L783.92 620.75 L786.05 620.4 L788.25 620.32 L789.81 619.5 L791.72 618.15 L788.25 616.85 L784.79 615.12 L782.45 613.44 L780.45 611.66 L779.81 609.07 L779.59 606.46 L781.32 604.73 L781.16 602.34 L780.45 600.4 L781.95 598.67 L783.05 596.93 L784.79 593.47 L786.32 591.85 L787.38 590M782.19 596.71 L783.96 595.98 L786.23 594.54 L785.13 591.59 L784.06 589.49 L786.14 587.82 L789.12 586.17 L790.51 588.73 L792 591.65 L794.08 591.03 L796.65 591 L799.22 590.21 L800.66 588.05 L800.7 590.44 L801.93 592.03 L802.11 594.54 L805.38 595.82 L807.88 596.71 L810.41 597.06 L812.1 597.69 L814.83 598.41 L816.54 598.87 L818.15 600.54 L819.81 601.93 L821.38 604.37 L823.28 606.19 L825.21 607.53 L826.9 609.01 L829.07 610.62 L830.87 613 L833.25 614.55 L834.95 616.33 L836.75 617.64 L838.59 619.37 L839.84 620.6 L841.29 622.65 L842.76 624.51 L843.78 625.65 L845.42 627.75 L847.53 629.14 L848.86 631.07 L850.43 633.16 L852.77 634.46 L854.08 636.41 L856.14 638.15 L857.98 640.16 L859.85 642.18 L860.42 644.19 L861.32 647.17 L862.45 648.86 L863.68 651.87 L864.18 653.73 L862.21 655.33 L860.06 657.21 L858.41 659.5 L859.85 663.11 L862.6 663.11 L865.63 663.84 L866.84 666.02 L868.58 669 L869.96 671.05 L872.59 672.18 L874.69 673.48 L877.18 674.66 L875.14 676.68 L872.93 678.79 L871.4 681.16 L869.42 679.38 L866.59 678.39 L864.18 676.83 L861.98 676.21 L858.92 675.88 L856.51 675.7 L854.08 675.38 L851.6 677.14 L848.3 678.27 L849.36 680.73 L849.75 684.05 L846.44 684.96 L843.97 685.49 L846.49 687.63 L848.3 689.82 L851.27 690.81 L854.08 692.71 L856.15 695.26 L858.41 697.04 L857.98 699.52 L856.97 701.37 L859.56 701.87 L861.3 702.81 L860.46 704.67 L860.35 707.31 L859.85 709.31 L858.08 710.23 L855.52 710.75 L854.21 708.47 L852.63 705.7 L850.19 705.99 L847.41 706.44 L845.42 706.42 L842.29 707.04 L839.77 706.73 L836.75 707.14 L834.01 708.12 L832.07 709.73 L829.54 710.75 L826.3 711.81 L823.76 713.64 L821.38 713.23 L818.85 712.43 L816.54 712.2 L813.75 711.03 L810.77 710.75 L809.15 712.4 L808.3 714.25 L806.44 715.81 L804.47 715.93 L801.58 715.87 L799.92 716.42 L797.03 715.95 L794.89 716.53 L795.37 718.85 L795.78 720.64 L796.33 723.02 L798.65 724.13 L800.42 724.05 L802.68 725.12 L804.99 725.91 L803.72 727.95 L802.11 730.53M773.96 730.53 L775.94 729.45 L777.57 728.08 L779.49 728.72 L781.7 729.6 L783.34 730.53M786.8 590.92 L786.11 591.2 L785.58 591.08 L785.21 590.51 L785.84 590.42 L786.58 590.6ZM784.17 589.16 L784.61 588.72 L785.2 588.48 L786 588.69 L785.45 589.35 L784.74 589.6ZM785.55 589.69 L785.35 589.12 L786.27 588.24 L787.25 588.37 L787.01 589.09 L786.96 589.5 L785.96 590.03Z"/>
<path fill="#fff" stroke="#000" stroke-width="0.9" d="M912.28 152.18 L914.21 150.26 L917.83 149.34 L921.18 148.67 L924.79 147.76 L927.94 146.8 L931.21 145.48 L934.42 144.49 L937.22 142.82 L940.19 141.21 L944.04 137.36 L948.85 135.44 L951.74 136.79 L951.36 139.67 L946.93 141.98 L943.08 144.49 L940.72 146.54 L938.27 148.33 L934.63 149.39 L931.12 150.66 L927.68 151.61 L924.04 152.5 L920.49 153.63 L917.09 154.69 L913.24 155.07Z"/>
<path fill="none" stroke="#000" stroke-width="0.9" d="M980.62 168.93 L975.8 172.01 L968.1 173.36 L963.68 174.71 L964.25 177.4 L969.07 177.21 L977.73 175.28 L980.62 173.94"/>
<ellipse fill="#fff" stroke="#000" stroke-width="0.9" cx="921.9" cy="193.8" rx="3.1" ry="4.8" transform="rotate(20 921.9 193.8)"/>
<path fill="none" stroke="#000" stroke-width="0.9" d="M889.76 340.25 L893.99 338.9 L901.69 338.9 L905.54 339.87 L905.93 342.75 L902.66 344.68 L896.88 344.1 L892.07 342.95Z"/>
<path fill="none" stroke="#000" stroke-width="0.8" d="M370.8 419.2 L375.9 422.6 L378.5 427 L379 428.9 L378 432.7 L374.6 435.6 L371.3 437.8 L368.9 435.6 L368.4 428.9 L368.9 423.1Z"/>
</g>
</defs>
<rect width="2186" height="1856" fill="#fff"/>
<g transform="translate(0 0)">
<g clip-path="url(#mapclip)">
<use href="#coast"/>
<path fill="#ff00e6" d="M676.64 193.9h20.64v20.66h-20.64zM828.92 224.1h20.64v20.66h-20.64zM375.56 284.1h20.64v20.66h-20.64zM351.32 349h20.64v20.66h-20.64zM417.08 349h20.64v20.66h-20.64zM351.32 379h20.64v20.66h-20.64zM375.56 379h20.64v20.66h-20.64zM437.84 379h20.64v20.66h-20.64zM351.32 409.1h20.64v20.66h-20.64zM375.56 409.1h20.64v20.66h-20.64zM936.2 409.1h20.64v20.66h-20.64zM375.56 443.7h20.64v20.66h-20.64zM742.4 443.7h20.64v20.66h-20.64zM763.16 443.7h20.64v20.66h-20.64zM783.92 443.7h20.64v20.66h-20.64zM783.92 473.6h20.64v20.66h-20.64zM808.16 473.6h20.64v20.66h-20.64z"/>
<path fill="#ff002b" d="M482.84 224.1h20.64v20.66h-20.64zM503.6 224.1h20.64v20.66h-20.64zM524.36 224.1h20.64v20.66h-20.64zM548.6 224.1h20.64v20.66h-20.64zM569.36 224.1h20.64v20.66h-20.64zM610.88 224.1h20.64v20.66h-20.64zM635.12 224.1h20.64v20.66h-20.64zM763.16 224.1h20.64v20.66h-20.64zM462.08 254.1h20.64v20.66h-20.64zM482.84 254.1h20.64v20.66h-20.64zM503.6 254.1h20.64v20.66h-20.64zM524.36 254.1h20.64v20.66h-20.64zM569.36 254.1h20.64v20.66h-20.64zM590.12 254.1h20.64v20.66h-20.64zM610.88 254.1h20.64v20.66h-20.64zM635.12 254.1h20.64v20.66h-20.64zM655.88 254.1h20.64v20.66h-20.64zM721.64 254.1h20.64v20.66h-20.64zM742.4 254.1h20.64v20.66h-20.64zM783.92 254.1h20.64v20.66h-20.64zM849.68 254.1h20.64v20.66h-20.64zM462.08 284.1h20.64v20.66h-20.64zM482.84 284.1h20.64v20.66h-20.64zM503.6 284.1h20.64v20.66h-20.64zM524.36 284.1h20.64v20.66h-20.64zM548.6 284.1h20.64v20.66h-20.64zM569.36 284.1h20.64v20.66h-20.64zM590.12 284.1h20.64v20.66h-20.64zM610.88 284.1h20.64v20.66h-20.64zM635.12 284.1h20.64v20.66h-20.64zM655.88 284.1h20.64v20.66h-20.64zM676.64 284.1h20.64v20.66h-20.64zM742.4 284.1h20.64v20.66h-20.64zM828.92 284.1h20.64v20.66h-20.64zM849.68 284.1h20.64v20.66h-20.64zM482.84 319h20.64v20.66h-20.64zM503.6 319h20.64v20.66h-20.64zM524.36 319h20.64v20.66h-20.64zM548.6 319h20.64v20.66h-20.64zM569.36 319h20.64v20.66h-20.64zM590.12 319h20.64v20.66h-20.64zM610.88 319h20.64v20.66h-20.64zM635.12 319h20.64v20.66h-20.64zM655.88 319h20.64v20.66h-20.64zM676.64 319h20.64v20.66h-20.64zM697.4 319h20.64v20.66h-20.64zM721.64 319h20.64v20.66h-20.64zM763.16 319h20.64v20.66h-20.64zM783.92 319h20.64v20.66h-20.64zM808.16 319h20.64v20.66h-20.64zM828.92 319h20.64v20.66h-20.64zM849.68 319h20.64v20.66h-20.64zM870.44 319h20.64v20.66h-20.64zM548.6 349h20.64v20.66h-20.64zM569.36 349h20.64v20.66h-20.64zM590.12 349h20.64v20.66h-20.64zM610.88 349h20.64v20.66h-20.64zM635.12 349h20.64v20.66h-20.64zM655.88 349h20.64v20.66h-20.64zM676.64 349h20.64v20.66h-20.64zM697.4 349h20.64v20.66h-20.64zM742.4 349h20.64v20.66h-20.64zM763.16 349h20.64v20.66h-20.64zM783.92 349h20.64v20.66h-20.64zM808.16 349h20.64v20.66h-20.64zM828.92 349h20.64v20.66h-20.64zM849.68 349h20.64v20.66h-20.64zM870.44 349h20.64v20.66h-20.64zM590.12 379h20.64v20.66h-20.64zM610.88 379h20.64v20.66h-20.64zM635.12 379h20.64v20.66h-20.64zM742.4 379h20.64v20.66h-20.64zM783.92 379h20.64v20.66h-20.64zM808.16 379h20.64v20.66h-20.64zM870.44 379h20.64v20.66h-20.64zM894.68 379h20.64v20.66h-20.64zM915.44 379h20.64v20.66h-20.64zM783.92 409.1h20.64v20.66h-20.64zM808.16 409.1h20.64v20.66h-20.64zM828.92 409.1h20.64v20.66h-20.64zM849.68 409.1h20.64v20.66h-20.64zM870.44 409.1h20.64v20.66h-20.64z"/>
<path fill="#ff0082" d="M655.88 224.1h20.64v20.66h-20.64zM676.64 224.1h20.64v20.66h-20.64zM697.4 224.1h20.64v20.66h-20.64zM808.16 224.1h20.64v20.66h-20.64zM676.64 254.1h20.64v20.66h-20.64zM697.4 254.1h20.64v20.66h-20.64zM437.84 284.1h20.64v20.66h-20.64zM417.08 319h20.64v20.66h-20.64zM437.84 319h20.64v20.66h-20.64zM462.08 319h20.64v20.66h-20.64zM396.32 349h20.64v20.66h-20.64zM437.84 349h20.64v20.66h-20.64zM462.08 349h20.64v20.66h-20.64zM482.84 349h20.64v20.66h-20.64zM396.32 379h20.64v20.66h-20.64zM417.08 379h20.64v20.66h-20.64zM462.08 379h20.64v20.66h-20.64zM482.84 379h20.64v20.66h-20.64zM503.6 379h20.64v20.66h-20.64zM548.6 379h20.64v20.66h-20.64zM697.4 379h20.64v20.66h-20.64zM721.64 379h20.64v20.66h-20.64zM721.64 409.1h20.64v20.66h-20.64zM742.4 409.1h20.64v20.66h-20.64zM763.16 409.1h20.64v20.66h-20.64zM808.16 443.7h20.64v20.66h-20.64zM828.92 443.7h20.64v20.66h-20.64z"/>
<path fill="#aa00ff" d="M849.68 224.1h20.64v20.66h-20.64zM223.28 443.7h20.64v20.66h-20.64zM330.56 443.7h20.64v20.66h-20.64zM351.32 443.7h20.64v20.66h-20.64zM309.8 473.6h20.64v20.66h-20.64zM330.56 473.6h20.64v20.66h-20.64zM178.28 503h20.64v20.66h-20.64zM223.28 503h20.64v20.66h-20.64zM289.04 503h20.64v20.66h-20.64zM309.8 503h20.64v20.66h-20.64zM894.68 503h20.64v20.66h-20.64zM915.44 503h20.64v20.66h-20.64zM136.76 532.9h20.64v20.66h-20.64zM178.28 532.9h20.64v20.66h-20.64zM202.52 532.9h20.64v20.66h-20.64zM223.28 532.9h20.64v20.66h-20.64zM244.04 532.9h20.64v20.66h-20.64zM264.8 532.9h20.64v20.66h-20.64zM915.44 532.9h20.64v20.66h-20.64zM116 567.8h20.64v20.66h-20.64zM136.76 567.8h20.64v20.66h-20.64zM264.8 567.8h20.64v20.66h-20.64zM136.76 597.2h20.64v20.66h-20.64zM136.76 627h20.64v20.66h-20.64z"/>
<use href="#base"/>
</g>
<g fill="#000" stroke="none">
<rect x="254.1" y="123.3" width="173.1" height="10.2"/>
<rect x="600.3" y="123.3" width="173.1" height="10.2"/>
<rect x="946.5" y="123.3" width="35.1" height="10.2"/>
<rect x="254.1" y="730.6" width="173.1" height="10.5"/>
<rect x="600.3" y="730.6" width="173.1" height="10.5"/>
<rect x="946.5" y="730.6" width="35.1" height="10.5"/>
<rect x="70.8" y="234" width="10.2" height="249.6"/>
<rect x="981.6" y="234" width="9.8" height="249.6"/>
</g>
<rect fill="none" stroke="#000" stroke-width="1" x="70.8" y="123.3" width="920.6" height="617.8"/>
<path fill="none" stroke="#000" stroke-width="1" d="M70.8 133.5H991.4M70.8 730.6H991.4M81 123.3V741.1M981.6 123.3V741.1"/>
<g font-size="25.2" fill="#000" style="font-kerning:none">
<text x="81.8" y="113.6" text-anchor="middle">11°30'</text>
<text x="254.9" y="113.6" text-anchor="middle">12°00'</text>
<text x="428" y="113.6" text-anchor="middle">12°30'</text>
<text x="601.1" y="113.6" text-anchor="middle">13°00'</text>
<text x="774.2" y="113.6" text-anchor="middle">13°30'</text>
<text x="947.3" y="113.6" text-anchor="middle">14°00'</text>
<text x="1002.4" y="242.6">46°30'</text>
<text x="1002.4" y="492.2">46°00'</text>
<text x="1002.4" y="739.2">45°30'</text>
</g>
</g>
<g transform="translate(1080.2 0)">
<g clip-path="url(#mapclip)">
<use href="#coast"/>
<path fill="#28d44e" d="M676.64 193.9h20.64v20.66h-20.64zM482.84 224.1h20.64v20.66h-20.64zM503.6 224.1h20.64v20.66h-20.64zM808.16 224.1h20.64v20.66h-20.64zM828.92 224.1h20.64v20.66h-20.64zM849.68 224.1h20.64v20.66h-20.64zM462.08 254.1h20.64v20.66h-20.64zM482.84 254.1h20.64v20.66h-20.64zM462.08 284.1h20.64v20.66h-20.64zM482.84 284.1h20.64v20.66h-20.64zM524.36 284.1h20.64v20.66h-20.64zM223.28 443.7h20.64v20.66h-20.64zM330.56 443.7h20.64v20.66h-20.64zM742.4 443.7h20.64v20.66h-20.64zM763.16 443.7h20.64v20.66h-20.64zM783.92 443.7h20.64v20.66h-20.64zM309.8 473.6h20.64v20.66h-20.64zM330.56 473.6h20.64v20.66h-20.64zM783.92 473.6h20.64v20.66h-20.64zM808.16 473.6h20.64v20.66h-20.64zM178.28 503h20.64v20.66h-20.64zM223.28 503h20.64v20.66h-20.64zM894.68 503h20.64v20.66h-20.64zM915.44 503h20.64v20.66h-20.64zM136.76 532.9h20.64v20.66h-20.64zM244.04 532.9h20.64v20.66h-20.64zM264.8 532.9h20.64v20.66h-20.64zM915.44 532.9h20.64v20.66h-20.64zM116 567.8h20.64v20.66h-20.64zM136.76 567.8h20.64v20.66h-20.64zM264.8 567.8h20.64v20.66h-20.64z"/>
<path fill="#d6dc80" d="M524.36 224.1h20.64v20.66h-20.64zM548.6 224.1h20.64v20.66h-20.64zM569.36 224.1h20.64v20.66h-20.64zM610.88 224.1h20.64v20.66h-20.64zM635.12 224.1h20.64v20.66h-20.64zM655.88 224.1h20.64v20.66h-20.64zM676.64 224.1h20.64v20.66h-20.64zM697.4 224.1h20.64v20.66h-20.64zM763.16 224.1h20.64v20.66h-20.64zM503.6 254.1h20.64v20.66h-20.64zM524.36 254.1h20.64v20.66h-20.64zM569.36 254.1h20.64v20.66h-20.64zM590.12 254.1h20.64v20.66h-20.64zM610.88 254.1h20.64v20.66h-20.64zM635.12 254.1h20.64v20.66h-20.64zM655.88 254.1h20.64v20.66h-20.64zM676.64 254.1h20.64v20.66h-20.64zM697.4 254.1h20.64v20.66h-20.64zM721.64 254.1h20.64v20.66h-20.64zM849.68 254.1h20.64v20.66h-20.64zM437.84 284.1h20.64v20.66h-20.64zM503.6 284.1h20.64v20.66h-20.64zM548.6 284.1h20.64v20.66h-20.64zM569.36 284.1h20.64v20.66h-20.64zM590.12 284.1h20.64v20.66h-20.64zM610.88 284.1h20.64v20.66h-20.64zM635.12 284.1h20.64v20.66h-20.64zM655.88 284.1h20.64v20.66h-20.64zM676.64 284.1h20.64v20.66h-20.64zM828.92 284.1h20.64v20.66h-20.64zM417.08 319h20.64v20.66h-20.64zM437.84 319h20.64v20.66h-20.64zM462.08 319h20.64v20.66h-20.64zM482.84 319h20.64v20.66h-20.64zM503.6 319h20.64v20.66h-20.64zM524.36 319h20.64v20.66h-20.64zM548.6 319h20.64v20.66h-20.64zM569.36 319h20.64v20.66h-20.64zM590.12 319h20.64v20.66h-20.64zM610.88 319h20.64v20.66h-20.64zM635.12 319h20.64v20.66h-20.64zM655.88 319h20.64v20.66h-20.64zM676.64 319h20.64v20.66h-20.64zM697.4 319h20.64v20.66h-20.64zM721.64 319h20.64v20.66h-20.64zM783.92 319h20.64v20.66h-20.64zM808.16 319h20.64v20.66h-20.64zM828.92 319h20.64v20.66h-20.64zM351.32 349h20.64v20.66h-20.64zM462.08 349h20.64v20.66h-20.64zM482.84 349h20.64v20.66h-20.64zM548.6 349h20.64v20.66h-20.64zM569.36 349h20.64v20.66h-20.64zM590.12 349h20.64v20.66h-20.64zM610.88 349h20.64v20.66h-20.64zM635.12 349h20.64v20.66h-20.64zM655.88 349h20.64v20.66h-20.64zM676.64 349h20.64v20.66h-20.64zM697.4 349h20.64v20.66h-20.64zM742.4 349h20.64v20.66h-20.64zM763.16 349h20.64v20.66h-20.64zM783.92 349h20.64v20.66h-20.64zM808.16 349h20.64v20.66h-20.64zM351.32 379h20.64v20.66h-20.64zM375.56 379h20.64v20.66h-20.64zM417.08 379h20.64v20.66h-20.64zM482.84 379h20.64v20.66h-20.64zM503.6 379h20.64v20.66h-20.64zM548.6 379h20.64v20.66h-20.64zM590.12 379h20.64v20.66h-20.64zM610.88 379h20.64v20.66h-20.64zM635.12 379h20.64v20.66h-20.64zM697.4 379h20.64v20.66h-20.64zM721.64 379h20.64v20.66h-20.64zM742.4 379h20.64v20.66h-20.64zM783.92 379h20.64v20.66h-20.64zM808.16 379h20.64v20.66h-20.64zM351.32 409.1h20.64v20.66h-20.64zM375.56 409.1h20.64v20.66h-20.64zM721.64 409.1h20.64v20.66h-20.64zM742.4 409.1h20.64v20.66h-20.64zM763.16 409.1h20.64v20.66h-20.64zM783.92 409.1h20.64v20.66h-20.64zM808.16 409.1h20.64v20.66h-20.64zM936.2 409.1h20.64v20.66h-20.64zM351.32 443.7h20.64v20.66h-20.64zM375.56 443.7h20.64v20.66h-20.64zM808.16 443.7h20.64v20.66h-20.64zM828.92 443.7h20.64v20.66h-20.64z"/>
<path fill="#f8f47e" d="M742.4 254.1h20.64v20.66h-20.64zM783.92 254.1h20.64v20.66h-20.64zM375.56 284.1h20.64v20.66h-20.64zM742.4 284.1h20.64v20.66h-20.64zM849.68 284.1h20.64v20.66h-20.64zM763.16 319h20.64v20.66h-20.64zM849.68 319h20.64v20.66h-20.64zM870.44 319h20.64v20.66h-20.64zM396.32 349h20.64v20.66h-20.64zM417.08 349h20.64v20.66h-20.64zM437.84 349h20.64v20.66h-20.64zM828.92 349h20.64v20.66h-20.64zM849.68 349h20.64v20.66h-20.64zM870.44 349h20.64v20.66h-20.64zM396.32 379h20.64v20.66h-20.64zM437.84 379h20.64v20.66h-20.64zM462.08 379h20.64v20.66h-20.64zM870.44 379h20.64v20.66h-20.64zM894.68 379h20.64v20.66h-20.64zM915.44 379h20.64v20.66h-20.64zM828.92 409.1h20.64v20.66h-20.64zM849.68 409.1h20.64v20.66h-20.64zM870.44 409.1h20.64v20.66h-20.64z"/>
<path fill="#2aa86e" d="M289.04 503h20.64v20.66h-20.64zM309.8 503h20.64v20.66h-20.64zM178.28 532.9h20.64v20.66h-20.64zM202.52 532.9h20.64v20.66h-20.64zM223.28 532.9h20.64v20.66h-20.64zM136.76 597.2h20.64v20.66h-20.64zM136.76 627h20.64v20.66h-20.64z"/>
<use href="#base"/>
</g>
<g fill="#000" stroke="none">
<rect x="254.1" y="123.3" width="173.1" height="10.2"/>
<rect x="600.3" y="123.3" width="173.1" height="10.2"/>
<rect x="946.5" y="123.3" width="35.1" height="10.2"/>
<rect x="254.1" y="730.6" width="173.1" height="10.5"/>
<rect x="600.3" y="730.6" width="173.1" height="10.5"/>
<rect x="946.5" y="730.6" width="35.1" height="10.5"/>
<rect x="70.8" y="234" width="10.2" height="249.6"/>
<rect x="981.6" y="234" width="9.8" height="249.6"/>
</g>
<rect fill="none" stroke="#000" stroke-width="1" x="70.8" y="123.3" width="920.6" height="617.8"/>
<path fill="none" stroke="#000" stroke-width="1" d="M70.8 133.5H991.4M70.8 730.6H991.4M81 123.3V741.1M981.6 123.3V741.1"/>
<g font-size="25.2" fill="#000" style="font-kerning:none">
<text x="81.8" y="113.6" text-anchor="middle">11°30'</text>
<text x="254.9" y="113.6" text-anchor="middle">12°00'</text>
<text x="428" y="113.6" text-anchor="middle">12°30'</text>
<text x="601.1" y="113.6" text-anchor="middle">13°00'</text>
<text x="774.2" y="113.6" text-anchor="middle">13°30'</text>
<text x="947.3" y="113.6" text-anchor="middle">14°00'</text>
<text x="1002.4" y="242.6">46°30'</text>
<text x="1002.4" y="492.2">46°00'</text>
<text x="1002.4" y="739.2">45°30'</text>
</g>
</g>
<g transform="translate(0 871.8)">
<g clip-path="url(#mapclip)">
<use href="#coast"/>
<path fill="#ffb408" d="M676.64 193.9h20.64v20.66h-20.64zM697.4 224.1h20.64v20.66h-20.64zM462.08 254.1h20.64v20.66h-20.64zM482.84 254.1h20.64v20.66h-20.64zM375.56 284.1h20.64v20.66h-20.64zM437.84 284.1h20.64v20.66h-20.64zM462.08 284.1h20.64v20.66h-20.64zM482.84 284.1h20.64v20.66h-20.64zM676.64 284.1h20.64v20.66h-20.64zM417.08 319h20.64v20.66h-20.64zM437.84 319h20.64v20.66h-20.64zM462.08 319h20.64v20.66h-20.64zM482.84 319h20.64v20.66h-20.64zM503.6 319h20.64v20.66h-20.64zM676.64 319h20.64v20.66h-20.64zM697.4 319h20.64v20.66h-20.64zM351.32 349h20.64v20.66h-20.64zM396.32 349h20.64v20.66h-20.64zM417.08 349h20.64v20.66h-20.64zM437.84 349h20.64v20.66h-20.64zM462.08 349h20.64v20.66h-20.64zM482.84 349h20.64v20.66h-20.64zM697.4 349h20.64v20.66h-20.64zM870.44 349h20.64v20.66h-20.64zM351.32 379h20.64v20.66h-20.64zM375.56 379h20.64v20.66h-20.64zM396.32 379h20.64v20.66h-20.64zM417.08 379h20.64v20.66h-20.64zM437.84 379h20.64v20.66h-20.64zM462.08 379h20.64v20.66h-20.64zM482.84 379h20.64v20.66h-20.64zM503.6 379h20.64v20.66h-20.64zM548.6 379h20.64v20.66h-20.64zM697.4 379h20.64v20.66h-20.64zM721.64 379h20.64v20.66h-20.64zM870.44 379h20.64v20.66h-20.64zM351.32 409.1h20.64v20.66h-20.64zM375.56 409.1h20.64v20.66h-20.64zM721.64 409.1h20.64v20.66h-20.64zM742.4 409.1h20.64v20.66h-20.64zM223.28 443.7h20.64v20.66h-20.64zM330.56 443.7h20.64v20.66h-20.64zM351.32 443.7h20.64v20.66h-20.64zM375.56 443.7h20.64v20.66h-20.64zM742.4 443.7h20.64v20.66h-20.64zM309.8 473.6h20.64v20.66h-20.64zM330.56 473.6h20.64v20.66h-20.64zM783.92 473.6h20.64v20.66h-20.64zM808.16 473.6h20.64v20.66h-20.64zM178.28 503h20.64v20.66h-20.64zM223.28 503h20.64v20.66h-20.64zM289.04 503h20.64v20.66h-20.64zM309.8 503h20.64v20.66h-20.64zM915.44 503h20.64v20.66h-20.64zM136.76 532.9h20.64v20.66h-20.64zM178.28 532.9h20.64v20.66h-20.64zM202.52 532.9h20.64v20.66h-20.64zM244.04 532.9h20.64v20.66h-20.64zM264.8 532.9h20.64v20.66h-20.64zM915.44 532.9h20.64v20.66h-20.64zM116 567.8h20.64v20.66h-20.64zM136.76 567.8h20.64v20.66h-20.64zM264.8 567.8h20.64v20.66h-20.64zM136.76 597.2h20.64v20.66h-20.64zM136.76 627h20.64v20.66h-20.64z"/>
<path fill="#ff4000" d="M482.84 224.1h20.64v20.66h-20.64zM503.6 224.1h20.64v20.66h-20.64zM524.36 224.1h20.64v20.66h-20.64zM548.6 224.1h20.64v20.66h-20.64zM569.36 224.1h20.64v20.66h-20.64zM610.88 224.1h20.64v20.66h-20.64zM635.12 224.1h20.64v20.66h-20.64zM655.88 224.1h20.64v20.66h-20.64zM676.64 224.1h20.64v20.66h-20.64zM503.6 254.1h20.64v20.66h-20.64zM524.36 254.1h20.64v20.66h-20.64zM569.36 254.1h20.64v20.66h-20.64zM590.12 254.1h20.64v20.66h-20.64zM610.88 254.1h20.64v20.66h-20.64zM635.12 254.1h20.64v20.66h-20.64zM655.88 254.1h20.64v20.66h-20.64zM676.64 254.1h20.64v20.66h-20.64zM503.6 284.1h20.64v20.66h-20.64zM524.36 284.1h20.64v20.66h-20.64zM548.6 284.1h20.64v20.66h-20.64zM569.36 284.1h20.64v20.66h-20.64zM590.12 284.1h20.64v20.66h-20.64zM610.88 284.1h20.64v20.66h-20.64zM635.12 284.1h20.64v20.66h-20.64zM655.88 284.1h20.64v20.66h-20.64zM524.36 319h20.64v20.66h-20.64zM548.6 319h20.64v20.66h-20.64zM569.36 319h20.64v20.66h-20.64zM590.12 319h20.64v20.66h-20.64zM610.88 319h20.64v20.66h-20.64zM635.12 319h20.64v20.66h-20.64zM655.88 319h20.64v20.66h-20.64zM548.6 349h20.64v20.66h-20.64zM569.36 349h20.64v20.66h-20.64zM590.12 349h20.64v20.66h-20.64zM610.88 349h20.64v20.66h-20.64zM635.12 349h20.64v20.66h-20.64zM655.88 349h20.64v20.66h-20.64zM676.64 349h20.64v20.66h-20.64zM590.12 379h20.64v20.66h-20.64zM610.88 379h20.64v20.66h-20.64zM635.12 379h20.64v20.66h-20.64zM894.68 503h20.64v20.66h-20.64z"/>
<path fill="#44ff14" d="M763.16 224.1h20.64v20.66h-20.64zM721.64 254.1h20.64v20.66h-20.64zM742.4 254.1h20.64v20.66h-20.64zM849.68 254.1h20.64v20.66h-20.64zM828.92 284.1h20.64v20.66h-20.64zM808.16 319h20.64v20.66h-20.64zM828.92 319h20.64v20.66h-20.64zM849.68 319h20.64v20.66h-20.64zM808.16 349h20.64v20.66h-20.64zM828.92 349h20.64v20.66h-20.64zM849.68 349h20.64v20.66h-20.64zM742.4 379h20.64v20.66h-20.64zM915.44 379h20.64v20.66h-20.64zM783.92 409.1h20.64v20.66h-20.64zM808.16 409.1h20.64v20.66h-20.64zM849.68 409.1h20.64v20.66h-20.64zM936.2 409.1h20.64v20.66h-20.64z"/>
<path fill="#c8ff10" d="M808.16 224.1h20.64v20.66h-20.64zM828.92 224.1h20.64v20.66h-20.64zM849.68 224.1h20.64v20.66h-20.64zM697.4 254.1h20.64v20.66h-20.64zM783.92 254.1h20.64v20.66h-20.64zM742.4 284.1h20.64v20.66h-20.64zM849.68 284.1h20.64v20.66h-20.64zM721.64 319h20.64v20.66h-20.64zM763.16 319h20.64v20.66h-20.64zM783.92 319h20.64v20.66h-20.64zM870.44 319h20.64v20.66h-20.64zM742.4 349h20.64v20.66h-20.64zM763.16 349h20.64v20.66h-20.64zM783.92 349h20.64v20.66h-20.64zM783.92 379h20.64v20.66h-20.64zM808.16 379h20.64v20.66h-20.64zM894.68 379h20.64v20.66h-20.64zM763.16 409.1h20.64v20.66h-20.64zM828.92 409.1h20.64v20.66h-20.64zM870.44 409.1h20.64v20.66h-20.64zM763.16 443.7h20.64v20.66h-20.64zM783.92 443.7h20.64v20.66h-20.64zM808.16 443.7h20.64v20.66h-20.64zM828.92 443.7h20.64v20.66h-20.64zM223.28 532.9h20.64v20.66h-20.64z"/>
<use href="#base"/>
</g>
<g fill="#000" stroke="none">
<rect x="254.1" y="123.3" width="173.1" height="10.2"/>
<rect x="600.3" y="123.3" width="173.1" height="10.2"/>
<rect x="946.5" y="123.3" width="35.1" height="10.2"/>
<rect x="254.1" y="730.6" width="173.1" height="10.5"/>
<rect x="600.3" y="730.6" width="173.1" height="10.5"/>
<rect x="946.5" y="730.6" width="35.1" height="10.5"/>
<rect x="70.8" y="234" width="10.2" height="249.6"/>
<rect x="981.6" y="234" width="9.8" height="249.6"/>
</g>
<rect fill="none" stroke="#000" stroke-width="1" x="70.8" y="123.3" width="920.6" height="617.8"/>
<path fill="none" stroke="#000" stroke-width="1" d="M70.8 133.5H991.4M70.8 730.6H991.4M81 123.3V741.1M981.6 123.3V741.1"/>
<g font-size="25.2" fill="#000" style="font-kerning:none">
<text x="81.8" y="113.6" text-anchor="middle">11°30'</text>
<text x="254.9" y="113.6" text-anchor="middle">12°00'</text>
<text x="428" y="113.6" text-anchor="middle">12°30'</text>
<text x="601.1" y="113.6" text-anchor="middle">13°00'</text>
<text x="774.2" y="113.6" text-anchor="middle">13°30'</text>
<text x="947.3" y="113.6" text-anchor="middle">14°00'</text>
<text x="1002.4" y="242.6">46°30'</text>
<text x="1002.4" y="492.2">46°00'</text>
<text x="1002.4" y="739.2">45°30'</text>
</g>
</g>
<g transform="translate(1080.2 871.8)">
<g clip-path="url(#mapclip)">
<use href="#coast"/>
<path fill="#ff1000" d="M828.92 128.3h20.64v20.66h-20.64zM870.44 158.4h20.64v20.66h-20.64zM437.84 224.1h20.64v20.66h-20.64zM697.4 224.1h20.64v20.66h-20.64zM763.16 224.1h20.64v20.66h-20.64zM676.64 254.1h20.64v20.66h-20.64zM697.4 254.1h20.64v20.66h-20.64zM783.92 254.1h20.64v20.66h-20.64zM676.64 284.1h20.64v20.66h-20.64zM437.84 319h20.64v20.66h-20.64zM676.64 319h20.64v20.66h-20.64zM697.4 319h20.64v20.66h-20.64zM870.44 319h20.64v20.66h-20.64zM417.08 349h20.64v20.66h-20.64zM676.64 349h20.64v20.66h-20.64zM697.4 349h20.64v20.66h-20.64zM697.4 379h20.64v20.66h-20.64zM721.64 379h20.64v20.66h-20.64zM721.64 409.1h20.64v20.66h-20.64zM742.4 409.1h20.64v20.66h-20.64zM763.16 409.1h20.64v20.66h-20.64zM783.92 409.1h20.64v20.66h-20.64zM870.44 409.1h20.64v20.66h-20.64zM330.56 443.7h20.64v20.66h-20.64zM742.4 443.7h20.64v20.66h-20.64zM524.36 473.6h20.64v20.66h-20.64zM783.92 473.6h20.64v20.66h-20.64zM808.16 473.6h20.64v20.66h-20.64zM894.68 503h20.64v20.66h-20.64zM915.44 503h20.64v20.66h-20.64zM116 567.8h20.64v20.66h-20.64zM136.76 567.8h20.64v20.66h-20.64zM136.76 597.2h20.64v20.66h-20.64zM136.76 627h20.64v20.66h-20.64z"/>
<path fill="#ffa000" d="M676.64 193.9h20.64v20.66h-20.64zM396.32 224.1h20.64v20.66h-20.64zM503.6 224.1h20.64v20.66h-20.64zM462.08 254.1h20.64v20.66h-20.64zM503.6 254.1h20.64v20.66h-20.64zM721.64 254.1h20.64v20.66h-20.64zM742.4 254.1h20.64v20.66h-20.64zM849.68 254.1h20.64v20.66h-20.64zM375.56 284.1h20.64v20.66h-20.64zM437.84 284.1h20.64v20.66h-20.64zM482.84 284.1h20.64v20.66h-20.64zM524.36 284.1h20.64v20.66h-20.64zM742.4 284.1h20.64v20.66h-20.64zM417.08 319h20.64v20.66h-20.64zM462.08 319h20.64v20.66h-20.64zM482.84 319h20.64v20.66h-20.64zM503.6 319h20.64v20.66h-20.64zM524.36 319h20.64v20.66h-20.64zM548.6 319h20.64v20.66h-20.64zM655.88 319h20.64v20.66h-20.64zM721.64 319h20.64v20.66h-20.64zM351.32 349h20.64v20.66h-20.64zM396.32 349h20.64v20.66h-20.64zM437.84 349h20.64v20.66h-20.64zM462.08 349h20.64v20.66h-20.64zM482.84 349h20.64v20.66h-20.64zM548.6 349h20.64v20.66h-20.64zM569.36 349h20.64v20.66h-20.64zM742.4 349h20.64v20.66h-20.64zM351.32 379h20.64v20.66h-20.64zM375.56 379h20.64v20.66h-20.64zM396.32 379h20.64v20.66h-20.64zM437.84 379h20.64v20.66h-20.64zM462.08 379h20.64v20.66h-20.64zM482.84 379h20.64v20.66h-20.64zM503.6 379h20.64v20.66h-20.64zM548.6 379h20.64v20.66h-20.64zM742.4 379h20.64v20.66h-20.64zM915.44 379h20.64v20.66h-20.64zM351.32 409.1h20.64v20.66h-20.64zM375.56 409.1h20.64v20.66h-20.64zM808.16 409.1h20.64v20.66h-20.64zM936.2 409.1h20.64v20.66h-20.64zM223.28 443.7h20.64v20.66h-20.64zM351.32 443.7h20.64v20.66h-20.64zM375.56 443.7h20.64v20.66h-20.64zM309.8 473.6h20.64v20.66h-20.64zM330.56 473.6h20.64v20.66h-20.64zM223.28 503h20.64v20.66h-20.64zM289.04 503h20.64v20.66h-20.64zM136.76 532.9h20.64v20.66h-20.64zM178.28 532.9h20.64v20.66h-20.64zM202.52 532.9h20.64v20.66h-20.64zM223.28 532.9h20.64v20.66h-20.64zM244.04 532.9h20.64v20.66h-20.64zM915.44 532.9h20.64v20.66h-20.64zM462.08 627h20.64v20.66h-20.64zM482.84 627h20.64v20.66h-20.64zM462.08 656.5h20.64v20.66h-20.64zM482.84 656.5h20.64v20.66h-20.64z"/>
<path fill="#ffea00" d="M482.84 224.1h20.64v20.66h-20.64zM524.36 224.1h20.64v20.66h-20.64zM548.6 224.1h20.64v20.66h-20.64zM569.36 224.1h20.64v20.66h-20.64zM610.88 224.1h20.64v20.66h-20.64zM635.12 224.1h20.64v20.66h-20.64zM655.88 224.1h20.64v20.66h-20.64zM676.64 224.1h20.64v20.66h-20.64zM482.84 254.1h20.64v20.66h-20.64zM524.36 254.1h20.64v20.66h-20.64zM569.36 254.1h20.64v20.66h-20.64zM590.12 254.1h20.64v20.66h-20.64zM610.88 254.1h20.64v20.66h-20.64zM655.88 254.1h20.64v20.66h-20.64zM462.08 284.1h20.64v20.66h-20.64zM503.6 284.1h20.64v20.66h-20.64zM548.6 284.1h20.64v20.66h-20.64zM569.36 284.1h20.64v20.66h-20.64zM590.12 284.1h20.64v20.66h-20.64zM610.88 284.1h20.64v20.66h-20.64zM635.12 284.1h20.64v20.66h-20.64zM655.88 284.1h20.64v20.66h-20.64zM828.92 284.1h20.64v20.66h-20.64zM569.36 319h20.64v20.66h-20.64zM590.12 319h20.64v20.66h-20.64zM610.88 319h20.64v20.66h-20.64zM635.12 319h20.64v20.66h-20.64zM763.16 319h20.64v20.66h-20.64zM783.92 319h20.64v20.66h-20.64zM828.92 319h20.64v20.66h-20.64zM849.68 319h20.64v20.66h-20.64zM590.12 349h20.64v20.66h-20.64zM610.88 349h20.64v20.66h-20.64zM635.12 349h20.64v20.66h-20.64zM655.88 349h20.64v20.66h-20.64zM763.16 349h20.64v20.66h-20.64zM783.92 349h20.64v20.66h-20.64zM828.92 349h20.64v20.66h-20.64zM849.68 349h20.64v20.66h-20.64zM417.08 379h20.64v20.66h-20.64zM590.12 379h20.64v20.66h-20.64zM610.88 379h20.64v20.66h-20.64zM635.12 379h20.64v20.66h-20.64zM808.16 379h20.64v20.66h-20.64zM828.92 409.1h20.64v20.66h-20.64zM849.68 409.1h20.64v20.66h-20.64zM178.28 503h20.64v20.66h-20.64zM309.8 503h20.64v20.66h-20.64zM264.8 532.9h20.64v20.66h-20.64zM264.8 567.8h20.64v20.66h-20.64z"/>
<path fill="#2a0000" d="M808.16 224.1h20.64v20.66h-20.64zM828.92 224.1h20.64v20.66h-20.64z"/>
<path fill="#be0000" d="M849.68 224.1h20.64v20.66h-20.64zM849.68 284.1h20.64v20.66h-20.64zM244.04 349h20.64v20.66h-20.64zM870.44 349h20.64v20.66h-20.64zM870.44 379h20.64v20.66h-20.64zM894.68 379h20.64v20.66h-20.64zM763.16 443.7h20.64v20.66h-20.64zM783.92 443.7h20.64v20.66h-20.64zM808.16 443.7h20.64v20.66h-20.64zM828.92 443.7h20.64v20.66h-20.64z"/>
<path fill="#ffffc8" d="M635.12 254.1h20.64v20.66h-20.64zM808.16 319h20.64v20.66h-20.64zM808.16 349h20.64v20.66h-20.64zM783.92 379h20.64v20.66h-20.64z"/>
<use href="#base"/>
</g>
<g fill="#000" stroke="none">
<rect x="254.1" y="123.3" width="173.1" height="10.2"/>
<rect x="600.3" y="123.3" width="173.1" height="10.2"/>
<rect x="946.5" y="123.3" width="35.1" height="10.2"/>
<rect x="254.1" y="730.6" width="173.1" height="10.5"/>
<rect x="600.3" y="730.6" width="173.1" height="10.5"/>
<rect x="946.5" y="730.6" width="35.1" height="10.5"/>
<rect x="70.8" y="234" width="10.2" height="249.6"/>
<rect x="981.6" y="234" width="9.8" height="249.6"/>
</g>
<rect fill="none" stroke="#000" stroke-width="1" x="70.8" y="123.3" width="920.6" height="617.8"/>
<path fill="none" stroke="#000" stroke-width="1" d="M70.8 133.5H991.4M70.8 730.6H991.4M81 123.3V741.1M981.6 123.3V741.1"/>
<g font-size="25.2" fill="#000" style="font-kerning:none">
<text x="81.8" y="113.6" text-anchor="middle">11°30'</text>
<text x="254.9" y="113.6" text-anchor="middle">12°00'</text>
<text x="428" y="113.6" text-anchor="middle">12°30'</text>
<text x="601.1" y="113.6" text-anchor="middle">13°00'</text>
<text x="774.2" y="113.6" text-anchor="middle">13°30'</text>
<text x="947.3" y="113.6" text-anchor="middle">14°00'</text>
<text x="1002.4" y="242.6">46°30'</text>
<text x="1002.4" y="492.2">46°00'</text>
<text x="1002.4" y="739.2">45°30'</text>
</g>
</g>
<rect x="265.65" y="805.75" width="450" height="30.5" fill="url(#gA)" stroke="#000" stroke-width="2.9"/>
<path d="M310.45 837.7V846.4M400.48 837.7V846.4M490.51 837.7V846.4M580.54 837.7V846.4M670.57 837.7V846.4" stroke="#333" stroke-width="1.1" fill="none"/>
<g font-size="33.3" fill="#000" text-anchor="middle"><text x="310.45" y="879.6">−0.4</text><text x="400.48" y="879.6">−0.2</text><text x="490.51" y="879.6">0.0</text><text x="580.54" y="879.6">0.2</text><text x="670.57" y="879.6">0.4</text></g>
<text transform="translate(159.2 857) scale(0.96 1)" font-size="86" fill="#2b2a29">A</text>
<text x="775.6" y="836" font-size="50.2" fill="#2b2a29">per year</text>
<rect x="1323.95" y="806.45" width="450.1" height="29.3" fill="url(#gB)" stroke="#000" stroke-width="2.9"/>
<path d="M1324 837V846.3M1414 837V846.3M1504 837V846.3M1594 837V846.3M1684 837V846.3M1774 837V846.3" stroke="#777" stroke-width="1.1" fill="none"/>
<g font-size="33.3" fill="#000" text-anchor="middle"><text x="1324" y="879.6">0.4</text><text x="1414" y="879.6">0.6</text><text x="1504" y="879.6">0.8</text><text x="1594" y="879.6">1.0</text><text x="1684" y="879.6">1.2</text><text x="1774" y="879.6">1.4</text></g>
<text transform="translate(1205 857.6) scale(0.96 1)" font-size="86" fill="#2b2a29">B</text>
<text x="1836.6" y="838.9" font-size="50.2" fill="#2b2a29">per unit</text>
<text x="1836.6" y="894.9" font-size="50.2" fill="#2b2a29">magnitude</text>
<rect x="251.95" y="1677.45" width="450.2" height="29.9" fill="url(#gC)" stroke="#000" stroke-width="2.9"/>
<path d="M308.4 1708.6V1717.5M420.8 1708.6V1717.5M533.2 1708.6V1717.5M645.6 1708.6V1717.5" stroke="#333" stroke-width="1.1" fill="none"/>
<g font-size="33.3" fill="#000" text-anchor="middle"><text x="308.4" y="1751.4">0.8</text><text x="420.8" y="1751.4">1.0</text><text x="533.2" y="1751.4">1.2</text><text x="645.6" y="1751.4">1.4</text></g>
<text transform="translate(141.8 1733) scale(0.96 1)" font-size="86" fill="#2b2a29">C</text>
<text x="733.3" y="1701.9" font-size="50.2" fill="#2b2a29">per order</text>
<text x="733.3" y="1757.8" font-size="50.2" fill="#2b2a29">of distance</text>
<text x="733.3" y="1813.7" font-size="50.2" fill="#2b2a29">in degrees</text>
<rect x="1538.25" y="1683" width="87.15" height="30" fill="#ffffc8"/>
<rect x="1625.1" y="1683" width="72.9" height="30" fill="#ffea00"/>
<rect x="1697.7" y="1683" width="72.9" height="30" fill="#ffa000"/>
<rect x="1770.3" y="1683" width="73.3" height="30" fill="#ff1000"/>
<rect x="1843.3" y="1683" width="72.9" height="30" fill="#be0000"/>
<rect x="1915.9" y="1683" width="72.95" height="30" fill="#2a0000"/>
<rect x="1538.25" y="1683.25" width="450.3" height="29.6" fill="none" stroke="#000" stroke-width="2.9"/>
<path d="M1552.6 1714.3V1723M1625.25 1714.3V1723M1697.9 1714.3V1723M1770.55 1714.3V1723M1843.2 1714.3V1723M1915.85 1714.3V1723" stroke="#555" stroke-width="1.1" fill="none"/>
<g font-size="33.3" fill="#000" text-anchor="middle"><text x="1552.6" y="1756.8">−5.0</text><text x="1625.25" y="1756.8">−4.5</text><text x="1697.9" y="1756.8">−4.0</text><text x="1770.55" y="1756.8">−3.5</text><text x="1843.2" y="1756.8">−3.0</text><text x="1915.85" y="1756.8">−2.5</text></g>
<text transform="translate(1195 1732.7) scale(0.96 1)" font-size="86" fill="#2b2a29">D</text>
<text class="ser" x="1298" y="1714.9" font-size="50.5" fill="#000">log<tspan font-size="28.5" dy="12.8">10</tspan><tspan font-size="54" dy="-11.8" dx="3.5">(</tspan><tspan dy="-1" dx="1">Σσ</tspan><tspan font-size="28.5" dy="-21" dx="11.5">2</tspan><tspan font-size="54" dy="22" dx="6.6">)</tspan></text>
</svg></body></html>
